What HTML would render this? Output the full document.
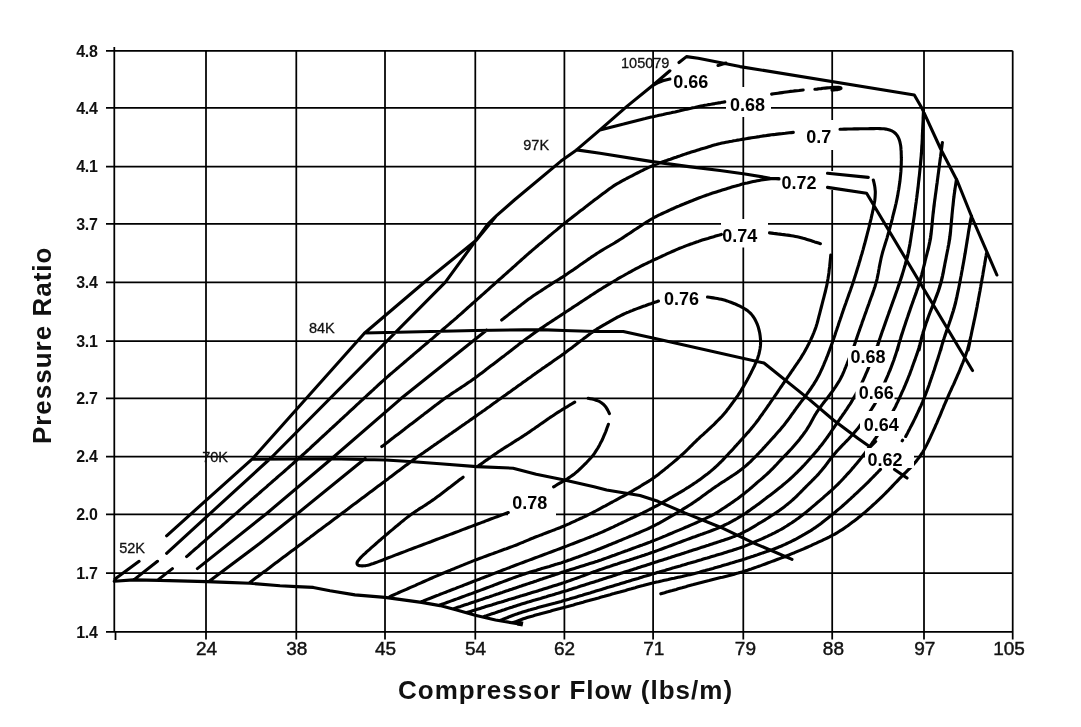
<!DOCTYPE html><html><head><meta charset="utf-8"><title>Compressor Map</title><style>html,body{margin:0;padding:0;background:#fff;}body{width:1081px;height:727px;overflow:hidden;}svg{display:block;}.ax{font-family:"Liberation Sans",Arial,sans-serif;}</style></head><body>
<svg width="1081" height="727" viewBox="0 0 1081 727">
<rect width="1081" height="727" fill="#fff"/>
<path d="M106,50.8 H1012.7 M106,107.9 H1012.7 M106,166.5 H1012.7 M106,223.9 H1012.7 M106,282.4 H1012.7 M106,341.2 H1012.7 M106,398.3 H1012.7 M106,456.5 H1012.7 M106,514.3 H1012.7 M106,573.1 H1012.7 M106,631.9 H1012.7 M206,50.8 V639.4 M296.3,50.8 V639.4 M385,50.8 V639.4 M475.3,50.8 V639.4 M564.4,50.8 V639.4 M653.1,50.8 V639.4 M743.3,50.8 V639.4 M832.2,50.8 V639.4 M924,50.8 V639.4 M1012.7,50.8 V639.4 M114.3,47 V631.9 M115.5,631.9 V640" stroke="#000" stroke-width="1.75" fill="none"/>
<rect x="671" y="70" width="42.0" height="21.0" fill="#fff"/><rect x="726" y="87" width="45.0" height="30.0" fill="#fff"/><rect x="800" y="120" width="38.0" height="30.0" fill="#fff"/><rect x="779" y="171" width="57.0" height="19.0" fill="#fff"/><rect x="721" y="219" width="47.0" height="28.5" fill="#fff"/><rect x="661" y="285" width="44.0" height="24.0" fill="#fff"/><rect x="508" y="489" width="48.0" height="27.0" fill="#fff"/>
<path d="M652.0,86.0 L653.9,84.9 L655.7,83.9 L657.6,82.9 L659.6,82.0 L661.6,81.2 L663.6,80.6 L665.7,80.0 L667.8,79.5 L669.9,79.1 M679.0,62.5 L686.5,56.6 L698.2,58.3 L740.0,66.6 L914.3,95.0 L922.0,108.3 L940.7,149.0 L957.3,181.0 L972.0,217.5 L996.9,275.0 M718.0,65.5 L726.0,63.0 M600.0,129.9 L602.0,129.4 L603.9,128.9 L605.9,128.4 L607.9,127.9 L609.8,127.4 L611.8,126.9 L613.8,126.4 L615.8,125.9 L617.7,125.4 L619.7,124.9 L621.7,124.4 L623.6,124.0 L625.6,123.5 L627.6,123.0 L629.5,122.5 L631.5,122.0 L633.5,121.5 L635.5,121.0 L637.4,120.5 L639.4,120.0 L641.4,119.5 L643.3,119.0 L645.3,118.6 L647.3,118.1 L649.3,117.6 L651.2,117.1 L653.2,116.7 L655.2,116.2 L657.2,115.8 L659.2,115.3 L661.1,114.9 L663.1,114.5 L665.1,114.0 L667.1,113.6 L669.1,113.2 L671.1,112.8 L673.1,112.3 L675.0,111.9 L677.0,111.4 L679.0,111.0 L681.0,110.5 L683.0,110.1 L684.9,109.6 L686.9,109.2 L688.9,108.7 L690.9,108.3 L692.9,107.8 L694.8,107.4 L696.8,106.9 L698.8,106.5 L700.8,106.1 L702.8,105.7 L704.8,105.3 L706.8,105.0 L708.8,104.6 L710.8,104.3 L712.8,103.9 L714.8,103.6 L716.8,103.2 L718.8,102.9 L720.8,102.6 L722.8,102.2 L724.8,101.9 M576.6,149.9 L600.0,153.3 L652.2,161.6 L688.8,166.6 L720.0,170.5 L745.0,174.0 L770.0,178.2 L779.0,179.0 M771.6,94.1 L773.7,93.8 L775.8,93.5 L777.9,93.2 L780.0,92.9 L782.1,92.6 L784.2,92.3 L786.3,92.0 L788.4,91.7 L790.5,91.4 L792.6,91.2 L794.8,90.9 L796.9,90.7 L799.0,90.5 L801.1,90.2 L803.2,90.0 M814.9,89.3 L816.9,89.1 L819.0,88.8 L821.0,88.6 L823.0,88.3 L825.1,88.1 L827.1,87.9 L829.1,87.7 L831.2,87.5 L833.1,87.3 L835.1,87.2 L836.9,87.2 L838.5,87.3 L839.8,87.5 L840.7,87.7 L841.0,88.1 L840.9,88.5 L840.2,88.9 L839.1,89.3 L837.6,89.6 L835.8,89.8 L833.9,90.0 L832.0,90.2 M840.0,129.2 L842.0,129.2 L844.0,129.1 L846.0,129.1 L848.0,129.0 L850.0,129.0 L852.0,129.0 L854.0,128.9 L856.0,128.9 L858.0,128.9 L860.0,128.8 L862.0,128.8 L864.0,128.7 L866.0,128.7 L868.0,128.7 L870.0,128.6 L872.0,128.6 L874.0,128.6 L876.0,128.5 L878.0,128.5 L880.0,128.6 L882.0,128.7 L883.9,128.8 L885.9,129.1 L887.7,129.5 L889.6,130.0 L891.3,130.6 L893.0,131.5 L894.4,132.5 L895.8,133.7 L896.9,135.1 L897.9,136.6 L898.7,138.3 L899.4,140.1 L899.9,141.9 L900.3,143.8 L900.7,145.8 L900.9,147.7 L901.0,149.7 L901.2,151.7 L901.2,153.7 L901.3,155.7 L901.3,157.7 L901.4,159.7 L901.3,161.7 L901.3,163.7 L901.2,165.7 L901.1,167.7 L901.0,169.7 L900.9,171.7 L900.7,173.7 L900.5,175.7 L900.3,177.6 L900.1,179.6 L899.9,181.6 L899.6,183.6 L899.3,185.6 L899.0,187.5 L898.7,189.5 L898.3,191.5 L898.0,193.5 L897.7,195.4 L897.3,197.4 L896.9,199.4 L896.5,201.3 L896.1,203.3 L895.6,205.2 L895.2,207.2 L894.7,209.1 L894.2,211.0 L893.7,213.0 L893.2,214.9 L892.7,216.9 L892.3,218.8 L891.8,220.7 L891.3,222.7 L890.7,224.6 L890.2,226.6 L889.7,228.5 L889.2,230.4 L888.6,232.3 L888.1,234.3 L887.5,236.2 L887.0,238.1 L886.4,240.0 L885.8,241.9 L885.2,243.8 L884.6,245.7 L884.0,247.6 L883.4,249.6 L882.8,251.5 L882.3,253.4 L881.8,255.3 L881.3,257.3 L880.9,259.2 L880.5,261.2 L880.1,263.1 L879.7,265.1 L879.3,267.1 L879.0,269.0 L878.6,271.0 L878.3,273.0 L877.9,274.9 L877.5,276.9 L877.1,278.8 L876.6,280.8 L876.1,282.7 L875.5,284.6 L875.0,286.5 L874.3,288.4 L873.7,290.3 L873.0,292.2 L872.4,294.1 L871.7,296.0 L871.0,297.8 L870.3,299.7 L869.6,301.6 L869.0,303.5 L868.3,305.4 L867.6,307.3 L866.9,309.1 L866.3,311.0 L865.6,312.9 L864.9,314.8 L864.2,316.7 L863.6,318.6 L862.9,320.4 L862.2,322.3 L861.6,324.2 L860.9,326.1 L860.2,328.0 L859.6,329.9 L858.9,331.8 L858.2,333.7 L857.6,335.5 L857.0,337.4 L856.3,339.3 L855.7,341.2 L855.1,343.1 L854.4,345.0 L853.7,346.9 L853.0,348.8 L852.3,350.6 L851.6,352.5 L850.8,354.4 L850.1,356.2 L849.3,358.1 L848.6,359.9 L847.8,361.8 L847.1,363.6 L846.3,365.5 L845.6,367.3 L844.8,369.2 L844.1,371.0 L843.3,372.9 L842.5,374.7 L841.6,376.5 L840.7,378.3 L839.8,380.0 L838.8,381.7 L837.7,383.4 L836.6,385.1 L835.5,386.8 L834.4,388.4 L833.3,390.1 L832.1,391.7 L830.9,393.3 L829.7,394.9 L828.5,396.5 L827.3,398.1 L826.1,399.7 L824.8,401.2 L823.6,402.8 L822.4,404.4 L821.2,406.0 L820.0,407.6 L818.9,409.2 L817.7,410.9 L816.6,412.5 L815.6,414.2 L814.5,415.9 L813.5,417.7 L812.6,419.4 L811.6,421.2 L810.7,422.9 L809.7,424.7 L808.7,426.4 L807.6,428.1 L806.6,429.8 L805.5,431.4 L804.3,433.0 L803.1,434.7 L801.9,436.2 L800.7,437.8 L799.5,439.4 L798.2,441.0 L796.9,442.5 L795.6,444.0 L794.3,445.5 L793.0,447.0 L791.7,448.5 L790.3,450.0 L789.0,451.4 L787.6,452.9 L786.2,454.3 L784.8,455.7 L783.4,457.2 L782.0,458.6 L780.6,460.1 L779.3,461.5 L777.9,463.0 L776.6,464.5 L775.2,465.9 L773.8,467.4 L772.4,468.8 L771.0,470.2 L769.6,471.6 L768.1,473.0 L766.7,474.3 L765.2,475.7 L763.7,477.0 L762.2,478.3 L760.7,479.6 L759.1,480.9 L757.6,482.2 L756.1,483.5 L754.6,484.8 L753.1,486.2 L751.6,487.5 L750.0,488.8 L748.5,490.1 L747.0,491.3 L745.4,492.6 L743.9,493.9 L742.3,495.1 L740.7,496.3 L739.1,497.5 L737.5,498.7 L735.9,499.8 L734.2,501.0 L732.6,502.1 L730.9,503.2 L729.3,504.4 L727.6,505.5 L726.0,506.6 L724.3,507.7 L722.6,508.8 L721.0,509.9 L719.3,511.0 L717.6,512.1 L715.9,513.1 L714.2,514.1 L712.4,515.1 L710.6,516.0 L708.9,516.9 L707.1,517.7 L705.3,518.6 L703.4,519.4 L701.6,520.3 L699.8,521.1 L698.0,521.9 L696.2,522.8 L694.3,523.6 L692.5,524.4 L690.7,525.2 L688.8,526.0 L687.0,526.8 L685.1,527.5 L683.3,528.3 L681.5,529.1 L679.6,529.9 L677.8,530.6 L675.9,531.4 L674.1,532.2 L672.2,533.0 L670.4,533.7 L668.5,534.5 L666.7,535.3 L664.9,536.1 L663.0,536.8 L661.2,537.6 L659.3,538.4 L657.5,539.1 L655.6,539.9 L653.8,540.6 L651.9,541.3 L650.0,542.1 L648.2,542.8 L646.3,543.5 L644.4,544.2 L642.5,544.9 L640.6,545.5 L638.8,546.2 L636.9,546.9 L635.0,547.6 L633.1,548.3 L631.3,549.0 L629.4,549.7 L627.5,550.4 L625.6,551.0 L623.7,551.7 L621.9,552.4 L620.0,553.1 L618.1,553.8 L616.2,554.5 L614.3,555.2 L612.5,555.8 L610.6,556.5 L608.7,557.2 L606.8,557.9 L604.9,558.6 L603.0,559.2 L601.2,559.9 L599.3,560.5 L597.4,561.2 L595.5,561.8 L593.6,562.4 L591.6,563.0 L589.7,563.6 L587.8,564.2 L585.9,564.8 L584.0,565.4 L582.1,566.0 L580.2,566.6 L578.3,567.2 L576.4,567.8 L574.5,568.4 L572.6,569.0 L570.6,569.6 L568.7,570.2 L566.8,570.8 L564.9,571.4 L563.0,572.0 L561.1,572.6 L559.2,573.3 L557.3,573.9 L555.4,574.5 L553.5,575.2 L551.6,575.8 L549.7,576.4 L547.8,577.1 L545.9,577.7 L544.0,578.3 L542.1,579.0 L540.2,579.6 L538.4,580.2 L536.5,580.9 L534.6,581.5 L532.7,582.2 L530.8,582.8 L528.9,583.4 L527.0,584.1 L525.1,584.7 L523.2,585.3 L521.3,586.0 L519.4,586.6 L517.5,587.3 L515.6,587.9 L513.7,588.5 L511.8,589.2 L509.9,589.8 L508.0,590.5 L506.1,591.1 L504.2,591.7 L502.3,592.4 L500.4,593.0 L498.5,593.7 L496.6,594.3 L494.7,594.9 L492.8,595.6 L491.0,596.2 L489.1,596.9 L487.2,597.5 L485.3,598.1 L483.4,598.8 L481.5,599.4 L479.6,600.1 L477.7,600.7 L475.8,601.3 L473.9,602.0 L472.0,602.6 L470.1,603.2 L468.2,603.9 L466.3,604.5 L464.4,605.1 L462.5,605.7 L460.6,606.4 L458.7,607.0 L456.8,607.6 L454.9,608.3 L453.0,608.9 M827.5,173.3 L868.3,177.4 M873.3,180.0 L873.8,181.9 L874.2,183.7 L874.6,185.6 L874.9,187.5 L875.1,189.4 L875.3,191.3 L875.3,193.2 L875.2,195.2 L875.1,197.1 L874.9,199.1 L874.7,201.0 L874.3,203.0 L874.0,204.9 L873.6,206.9 L873.3,208.9 L872.8,210.8 L872.4,212.8 L872.0,214.7 L871.5,216.7 L871.1,218.6 L870.6,220.6 L870.1,222.5 L869.6,224.5 L869.2,226.4 L868.7,228.3 L868.2,230.3 L867.7,232.2 L867.2,234.2 L866.7,236.1 L866.2,238.0 L865.7,240.0 L865.2,241.9 L864.7,243.8 L864.1,245.8 L863.6,247.7 L863.1,249.6 L862.5,251.6 L862.0,253.5 L861.4,255.4 L860.8,257.3 L860.3,259.2 L859.7,261.2 L859.1,263.1 L858.6,265.0 L858.0,266.9 L857.4,268.8 L856.8,270.8 L856.2,272.7 L855.6,274.6 L855.0,276.5 L854.4,278.4 L853.8,280.3 L853.2,282.2 L852.5,284.1 L851.9,286.0 L851.2,287.9 L850.6,289.8 L849.9,291.7 L849.2,293.5 L848.6,295.4 L847.9,297.3 L847.2,299.2 L846.5,301.1 L845.9,303.0 L845.2,304.9 L844.5,306.7 L843.9,308.6 L843.2,310.5 L842.6,312.4 L841.9,314.3 L841.3,316.2 L840.6,318.1 L840.0,320.0 L839.3,321.9 L838.7,323.8 L838.1,325.7 L837.4,327.6 L836.8,329.5 L836.1,331.4 L835.5,333.3 L834.9,335.2 L834.2,337.1 L833.6,339.0 L832.9,340.9 L832.3,342.8 L831.6,344.6 L830.9,346.5 L830.2,348.4 L829.5,350.3 L828.8,352.1 L828.1,354.0 L827.4,355.9 L826.6,357.7 L825.9,359.6 L825.1,361.4 L824.3,363.3 L823.6,365.1 L822.8,366.9 L822.0,368.8 L821.1,370.6 L820.3,372.4 L819.4,374.2 L818.5,375.9 L817.5,377.7 L816.6,379.4 L815.6,381.2 L814.5,382.9 L813.5,384.6 L812.4,386.2 L811.3,387.9 L810.2,389.5 L809.0,391.2 L807.8,392.8 L806.7,394.4 L805.5,396.0 L804.3,397.6 L803.1,399.2 L801.9,400.8 L800.7,402.4 L799.5,404.0 L798.3,405.6 L797.1,407.2 L795.9,408.9 L794.7,410.5 L793.6,412.1 L792.4,413.7 L791.2,415.4 L790.1,417.0 L788.9,418.6 L787.7,420.2 L786.5,421.8 L785.3,423.4 L784.1,425.0 L782.8,426.5 L781.5,428.1 L780.3,429.6 L778.9,431.1 L777.6,432.6 L776.3,434.1 L775.0,435.6 L773.6,437.1 L772.3,438.5 L770.9,440.0 L769.6,441.5 L768.2,443.0 L766.9,444.5 L765.5,445.9 L764.2,447.4 L762.8,448.9 L761.5,450.4 L760.1,451.8 L758.7,453.3 L757.3,454.7 L756.0,456.2 L754.5,457.6 L753.1,459.0 L751.7,460.4 L750.3,461.8 L748.8,463.1 L747.3,464.5 L745.8,465.8 L744.3,467.1 L742.8,468.3 L741.2,469.6 L739.6,470.8 L738.0,471.9 L736.4,473.1 L734.7,474.2 L733.1,475.3 L731.4,476.4 L729.7,477.5 L728.0,478.6 L726.3,479.7 L724.7,480.8 L723.0,481.8 L721.3,482.9 L719.6,484.0 L718.0,485.2 L716.3,486.3 L714.7,487.4 L713.0,488.5 L711.4,489.7 L709.8,490.9 L708.1,492.0 L706.5,493.2 L704.9,494.4 L703.3,495.6 L701.7,496.8 L700.1,498.0 L698.5,499.1 L696.8,500.3 L695.2,501.4 L693.5,502.5 L691.9,503.6 L690.2,504.7 L688.5,505.8 L686.8,506.9 L685.1,507.9 L683.4,508.9 L681.7,510.0 L679.9,511.0 L678.2,512.0 L676.5,513.0 L674.8,514.1 L673.1,515.1 L671.3,516.1 L669.6,517.1 L667.9,518.1 L666.1,519.1 L664.4,520.1 L662.7,521.1 L660.9,522.1 L659.2,523.1 L657.4,524.0 L655.7,524.9 L653.9,525.9 L652.1,526.7 L650.3,527.6 L648.5,528.5 L646.7,529.3 L644.8,530.1 L643.0,530.9 L641.2,531.7 L639.3,532.5 L637.5,533.3 L635.6,534.0 L633.8,534.8 L631.9,535.6 L630.1,536.3 L628.2,537.1 L626.4,537.9 L624.5,538.6 L622.7,539.4 L620.8,540.2 L619.0,540.9 L617.1,541.7 L615.3,542.5 L613.4,543.2 L611.6,544.0 L609.7,544.7 L607.9,545.5 L606.0,546.3 L604.2,547.0 L602.3,547.7 L600.4,548.5 L598.6,549.2 L596.7,549.9 L594.8,550.7 L593.0,551.4 L591.1,552.1 L589.2,552.8 L587.4,553.5 L585.5,554.2 L583.6,554.9 L581.7,555.6 L579.8,556.3 L578.0,557.0 L576.1,557.6 L574.2,558.3 L572.3,559.0 L570.4,559.7 L568.5,560.3 L566.7,561.0 L564.8,561.6 L562.9,562.2 L561.0,562.9 L559.0,563.5 L557.1,564.1 L555.2,564.6 L553.3,565.2 L551.4,565.8 L549.5,566.4 L547.5,566.9 L545.6,567.5 L543.7,568.1 L541.8,568.6 L539.9,569.2 L538.0,569.8 L536.0,570.4 L534.1,570.9 L532.2,571.5 L530.3,572.1 L528.4,572.7 L526.5,573.3 L524.6,574.0 L522.7,574.6 L520.8,575.2 L518.9,575.9 L517.0,576.6 L515.1,577.2 L513.2,577.9 L511.4,578.6 L509.5,579.3 L507.6,580.0 L505.7,580.7 L503.9,581.4 L502.0,582.1 L500.1,582.8 L498.2,583.5 L496.4,584.2 L494.5,584.9 L492.6,585.7 L490.7,586.4 L488.9,587.1 L487.0,587.8 L485.1,588.5 L483.2,589.2 L481.4,589.9 L479.5,590.6 L477.6,591.3 L475.7,592.0 L473.9,592.7 L472.0,593.4 L470.1,594.1 L468.2,594.7 L466.3,595.4 L464.5,596.1 L462.6,596.8 L460.7,597.5 L458.8,598.2 L456.9,598.9 L455.1,599.5 L453.2,600.2 L451.3,600.9 L449.4,601.6 L447.5,602.3 L445.6,603.0 L443.8,603.6 L441.9,604.3 L440.0,605.0 M827.5,187.4 L866.6,193.3 L972.5,370.5 M923.5,110.0 L923.4,112.0 L923.3,114.0 L923.2,116.0 L923.1,118.0 L923.1,120.0 L923.0,122.0 L922.9,124.0 L922.8,126.0 L922.7,128.0 L922.6,130.0 L922.5,132.0 L922.4,134.0 L922.4,136.0 L922.3,138.0 L922.2,140.0 L922.1,142.1 L922.0,144.1 L921.9,146.1 L921.8,148.1 L921.7,150.1 L921.5,152.1 L921.4,154.1 L921.2,156.1 L921.1,158.1 L920.9,160.0 L920.7,162.0 L920.5,164.0 L920.3,166.0 L920.1,168.0 L919.9,170.0 L919.7,172.0 L919.5,174.0 L919.3,176.0 L919.1,178.0 L918.9,180.0 L918.6,182.0 L918.4,184.0 L918.2,186.0 L918.0,188.0 L917.7,190.0 L917.5,191.9 L917.2,193.9 L917.0,195.9 L916.7,197.9 L916.4,199.9 L916.2,201.9 L915.9,203.9 L915.6,205.9 L915.4,207.8 L915.1,209.8 L914.8,211.8 L914.6,213.8 L914.3,215.8 L914.0,217.8 L913.7,219.8 L913.4,221.7 L913.1,223.7 L912.8,225.7 L912.5,227.7 L912.2,229.7 L911.9,231.7 L911.6,233.6 L911.3,235.6 L911.0,237.6 L910.7,239.6 L910.4,241.6 L910.1,243.5 L909.8,245.5 L909.4,247.5 L909.0,249.5 L908.7,251.4 L908.2,253.4 L907.8,255.3 L907.3,257.3 L906.8,259.2 L906.3,261.2 L905.7,263.1 L905.2,265.0 L904.6,266.9 L904.0,268.8 L903.4,270.8 L902.8,272.7 L902.3,274.6 L901.7,276.5 L901.1,278.4 L900.4,280.3 L899.8,282.2 L899.2,284.1 L898.5,286.0 L897.9,287.9 L897.2,289.8 L896.5,291.7 L895.8,293.6 L895.2,295.5 L894.5,297.4 L893.8,299.2 L893.1,301.1 L892.4,303.0 L891.8,304.9 L891.1,306.8 L890.4,308.7 L889.7,310.6 L889.0,312.4 L888.4,314.3 L887.7,316.2 L887.0,318.1 L886.4,320.0 L885.7,321.9 L885.0,323.8 L884.3,325.7 L883.7,327.6 L883.0,329.5 L882.3,331.3 L881.7,333.2 L881.0,335.1 L880.4,337.0 L879.8,338.9 L879.2,340.9 L878.6,342.8 L878.0,344.7 L877.4,346.6 M942.4,142.5 L942.1,144.5 L941.9,146.5 L941.6,148.5 L941.4,150.5 L941.1,152.5 L940.8,154.5 L940.6,156.5 L940.3,158.5 L940.0,160.5 L939.8,162.4 L939.5,164.4 L939.3,166.4 L939.0,168.4 L938.7,170.4 L938.5,172.4 L938.2,174.4 L937.9,176.4 L937.7,178.4 L937.4,180.4 L937.2,182.4 L936.9,184.4 L936.6,186.4 L936.4,188.4 L936.1,190.4 L935.8,192.4 L935.5,194.4 L935.3,196.4 L935.0,198.3 L934.7,200.3 L934.5,202.3 L934.2,204.3 L933.9,206.3 L933.7,208.3 L933.5,210.3 L933.2,212.3 L933.0,214.3 L932.8,216.3 L932.6,218.3 L932.4,220.3 L932.3,222.3 L932.1,224.3 L931.9,226.3 L931.7,228.3 L931.5,230.3 L931.3,232.3 L931.1,234.3 L930.8,236.3 L930.6,238.3 L930.2,240.3 L929.8,242.2 L929.4,244.2 L928.9,246.2 L928.5,248.1 L928.0,250.1 L927.4,252.0 L926.9,254.0 L926.4,255.9 L925.9,257.8 L925.4,259.8 L925.0,261.8 L924.5,263.7 L924.0,265.7 L923.5,267.6 L923.0,269.6 L922.6,271.5 L922.1,273.5 L921.6,275.4 L921.1,277.4 L920.5,279.3 L920.0,281.2 L919.4,283.2 L918.8,285.1 L918.2,287.0 L917.5,288.9 L916.8,290.8 L916.2,292.7 L915.5,294.6 L914.8,296.5 L914.1,298.4 L913.4,300.2 L912.8,302.1 L912.1,304.0 L911.4,305.9 L910.7,307.8 L910.1,309.7 L909.4,311.6 L908.7,313.5 L908.1,315.4 L907.5,317.3 L906.8,319.2 L906.2,321.1 L905.5,323.1 L904.9,325.0 L904.3,326.9 L903.6,328.8 L903.0,330.7 L902.4,332.6 L901.7,334.5 L901.1,336.4 L900.6,338.4 L900.0,340.3 L899.4,342.2 L898.9,344.2 L898.4,346.1 L897.9,348.1 L897.4,350.0 M956.5,179.1 L956.2,181.1 L955.9,183.1 L955.6,185.1 L955.3,187.1 L954.9,189.1 L954.7,191.1 L954.4,193.1 L954.1,195.1 L953.9,197.1 L953.6,199.1 L953.4,201.1 L953.2,203.1 L953.0,205.1 L952.8,207.2 L952.6,209.2 L952.4,211.2 L952.2,213.2 L952.0,215.2 L951.8,217.2 L951.6,219.2 L951.4,221.2 L951.3,223.3 L951.1,225.3 L950.9,227.3 L950.7,229.3 L950.6,231.3 L950.4,233.3 L950.2,235.3 L949.9,237.3 L949.7,239.3 L949.3,241.3 L949.0,243.3 L948.6,245.3 L948.2,247.3 L947.8,249.3 L947.4,251.2 L947.0,253.2 L946.6,255.2 L946.2,257.2 L945.8,259.2 L945.4,261.1 L945.0,263.1 L944.7,265.1 L944.3,267.1 L943.9,269.1 L943.6,271.1 L943.2,273.1 L942.8,275.0 L942.4,277.0 L941.9,279.0 L941.5,281.0 L941.0,282.9 L940.4,284.8 L939.8,286.8 L939.2,288.7 L938.6,290.6 L937.9,292.5 L937.2,294.4 L936.5,296.3 L935.7,298.2 L935.0,300.1 L934.3,301.9 L933.5,303.8 L932.7,305.7 L932.0,307.6 L931.2,309.4 L930.4,311.3 L929.7,313.2 L929.0,315.1 L928.3,317.0 L927.6,318.9 L926.9,320.8 L926.2,322.7 L925.6,324.6 L925.0,326.5 L924.3,328.4 L923.7,330.4 L923.1,332.3 L922.6,334.2 L922.0,336.2 L921.5,338.1 L921.1,340.1 L920.7,342.1 L920.3,344.0 L919.9,346.0 L919.5,348.0 L919.1,350.0 M971.5,215.7 L971.1,217.7 L970.7,219.6 L970.3,221.6 L970.0,223.6 L969.6,225.5 L969.3,227.5 L968.9,229.5 L968.6,231.4 L968.3,233.4 L968.0,235.4 L967.7,237.4 L967.4,239.4 L967.1,241.3 L966.8,243.3 L966.4,245.3 L966.1,247.3 L965.8,249.2 L965.5,251.2 L965.2,253.2 L964.8,255.2 L964.5,257.1 L964.1,259.1 L963.8,261.1 L963.4,263.1 L963.1,265.0 L962.7,267.0 L962.4,269.0 L962.0,270.9 L961.6,272.9 L961.3,274.9 L960.9,276.8 L960.5,278.8 L960.2,280.8 L959.8,282.7 L959.4,284.7 L959.0,286.7 L958.6,288.6 L958.2,290.6 L957.8,292.5 L957.4,294.5 L957.0,296.5 L956.6,298.4 L956.1,300.4 L955.7,302.3 L955.2,304.3 L954.7,306.2 L954.2,308.1 L953.6,310.0 L953.0,312.0 L952.4,313.9 L951.8,315.8 L951.2,317.7 L950.5,319.6 L949.9,321.5 L949.2,323.4 L948.6,325.2 L947.9,327.1 L947.2,329.0 L946.6,330.9 L945.9,332.8 L945.2,334.7 L944.6,336.6 L944.0,338.5 L943.3,340.4 L942.8,342.3 L942.2,344.2 L941.7,346.1 L941.2,348.1 L940.7,350.0 M986.5,253.3 L986.2,255.3 L985.8,257.3 L985.5,259.2 L985.1,261.2 L984.8,263.2 L984.5,265.2 L984.1,267.2 L983.8,269.1 L983.4,271.1 L983.1,273.1 L982.8,275.1 L982.4,277.1 L982.1,279.0 L981.7,281.0 L981.4,283.0 L981.0,285.0 L980.7,286.9 L980.3,288.9 L980.0,290.9 L979.6,292.9 L979.2,294.9 L978.9,296.8 L978.5,298.8 L978.2,300.8 L977.8,302.8 L977.4,304.7 L977.1,306.7 L976.7,308.7 L976.3,310.6 L975.9,312.6 L975.5,314.6 L975.1,316.6 L974.7,318.5 L974.2,320.5 L973.8,322.4 L973.4,324.4 L973.0,326.4 L972.6,328.3 L972.1,330.3 L971.7,332.3 L971.3,334.2 L970.9,336.2 L970.5,338.2 L970.1,340.1 L969.8,342.1 L969.4,344.1 L969.0,346.1 L968.6,348.0 L968.2,350.0 M830.8,255.0 L830.6,257.0 L830.4,259.0 L830.2,261.0 L830.0,263.0 L829.8,264.9 L829.6,266.9 L829.3,268.9 L829.1,270.9 L828.9,272.9 L828.6,274.9 L828.3,276.8 L828.0,278.8 L827.6,280.8 L827.3,282.7 L826.9,284.7 L826.5,286.7 L826.0,288.6 L825.6,290.5 L825.1,292.5 L824.6,294.4 L824.1,296.4 L823.6,298.3 L823.1,300.2 L822.6,302.2 L822.1,304.1 L821.6,306.0 L821.1,308.0 L820.6,309.9 L820.1,311.9 L819.6,313.8 L819.1,315.7 L818.6,317.7 L818.1,319.6 L817.6,321.5 L817.1,323.4 L816.5,325.3 L815.9,327.2 L815.2,329.1 L814.5,331.0 L813.8,332.8 L813.0,334.7 L812.3,336.5 L811.4,338.3 L810.6,340.1 L809.7,341.9 L808.8,343.7 L807.9,345.4 L807.0,347.2 L806.0,349.0 L805.1,350.7 L804.1,352.5 L803.1,354.2 L802.0,355.9 L801.0,357.6 L799.9,359.3 L798.8,360.9 L797.7,362.6 L796.6,364.2 L795.4,365.9 L794.3,367.5 L793.2,369.2 L792.0,370.8 L790.9,372.5 L789.8,374.1 L788.6,375.8 L787.5,377.4 L786.4,379.1 L785.2,380.7 L784.1,382.4 L783.0,384.0 L781.9,385.7 L780.7,387.3 L779.6,389.0 L778.5,390.7 L777.4,392.3 L776.3,394.0 L775.1,395.6 L774.0,397.3 L772.9,398.9 L771.7,400.6 L770.6,402.2 L769.5,403.9 L768.3,405.5 L767.2,407.1 L766.0,408.8 L764.9,410.4 L763.7,412.0 L762.6,413.7 L761.4,415.3 L760.2,416.9 L759.1,418.6 L757.9,420.2 L756.7,421.8 L755.5,423.4 L754.3,424.9 L753.0,426.5 L751.7,428.0 L750.5,429.6 L749.2,431.1 L747.8,432.6 L746.5,434.1 L745.2,435.6 L743.8,437.0 L742.5,438.5 L741.1,440.0 L739.8,441.5 L738.5,443.0 L737.1,444.4 L735.8,445.9 L734.4,447.4 L733.1,448.9 L731.8,450.4 L730.4,451.8 L729.0,453.3 L727.7,454.8 L726.3,456.2 L724.9,457.7 L723.6,459.1 L722.2,460.6 L720.8,462.0 L719.3,463.4 L717.9,464.8 L716.5,466.2 L715.0,467.5 L713.5,468.8 L712.0,470.1 L710.5,471.4 L708.9,472.7 L707.4,473.9 L705.8,475.1 L704.2,476.3 L702.6,477.5 L701.0,478.7 L699.4,479.9 L697.7,481.0 L696.1,482.2 L694.4,483.3 L692.8,484.4 L691.1,485.5 L689.4,486.6 L687.7,487.7 L686.0,488.7 L684.3,489.8 L682.6,490.8 L680.9,491.8 L679.2,492.8 L677.5,493.9 L675.7,494.9 L674.0,495.9 L672.3,496.9 L670.5,497.9 L668.8,498.9 L667.1,499.9 L665.3,500.9 L663.6,501.9 L661.9,502.9 L660.1,503.8 L658.4,504.8 L656.6,505.8 L654.9,506.7 L653.1,507.7 L651.3,508.6 L649.5,509.5 L647.8,510.4 L646.0,511.3 L644.2,512.2 L642.4,513.1 L640.6,513.9 L638.8,514.8 L637.0,515.6 L635.2,516.5 L633.4,517.4 L631.5,518.2 L629.7,519.1 L627.9,519.9 L626.1,520.8 L624.3,521.7 L622.5,522.5 L620.7,523.4 L618.9,524.2 L617.1,525.1 L615.3,525.9 L613.5,526.8 L611.7,527.6 L609.8,528.5 L608.0,529.3 L606.2,530.2 L604.4,531.0 L602.6,531.8 L600.7,532.6 L598.9,533.4 L597.1,534.2 L595.2,534.9 L593.4,535.7 L591.5,536.4 L589.6,537.2 L587.8,537.9 L585.9,538.6 L584.1,539.4 L582.2,540.1 L580.3,540.8 L578.5,541.5 L576.6,542.3 L574.7,543.0 L572.9,543.7 L571.0,544.4 L569.1,545.1 L567.3,545.9 L565.4,546.6 L563.5,547.3 L561.6,548.0 L559.8,548.7 L557.9,549.4 L556.0,550.1 L554.2,550.8 L552.3,551.5 L550.4,552.2 L548.5,552.9 L546.7,553.6 L544.8,554.3 L542.9,555.0 L541.0,555.7 L539.2,556.4 L537.3,557.1 L535.4,557.8 L533.5,558.5 L531.7,559.2 L529.8,559.9 L527.9,560.6 L526.0,561.3 L524.2,562.0 L522.3,562.7 L520.4,563.4 L518.5,564.1 L516.7,564.8 L514.8,565.5 L512.9,566.2 L511.1,566.9 L509.2,567.7 L507.3,568.4 L505.5,569.1 L503.6,569.8 L501.7,570.5 L499.9,571.3 L498.0,572.0 L496.1,572.7 L494.3,573.4 L492.4,574.1 L490.5,574.8 L488.7,575.6 L486.8,576.3 L484.9,577.0 L483.1,577.7 L481.2,578.4 L479.3,579.2 L477.5,579.9 L475.6,580.6 L473.7,581.3 L471.9,582.0 L470.0,582.8 L468.1,583.5 L466.3,584.2 L464.4,584.9 L462.5,585.7 L460.7,586.4 L458.8,587.1 L456.9,587.8 L455.1,588.6 L453.2,589.3 L451.3,590.0 L449.5,590.7 L447.6,591.4 L445.7,592.2 L443.9,592.9 L442.0,593.6 L440.1,594.3 L438.3,595.1 L436.4,595.8 L434.6,596.5 L432.7,597.2 L430.8,598.0 L429.0,598.7 L427.1,599.4 L425.2,600.1 L423.4,600.9 L421.5,601.6 M166.6,535.8 L252.9,458.3 L364.4,333.2 L423.2,283.3 L476.5,240.0 L496.0,216.2 L514.4,200.0 L561.0,161.1 L576.6,149.9 L600.0,129.9 L626.6,106.6 L653.2,85.0 L669.9,70.8 M166.6,553.3 L271.4,457.5 L445.4,282.1 L487.6,224.4 L495.0,217.0 M186.6,556.6 L188.1,555.3 L189.6,554.0 L191.1,552.6 L192.6,551.3 L194.1,550.0 L195.6,548.7 L197.2,547.4 L198.7,546.1 L200.2,544.7 L201.7,543.4 L203.2,542.1 L204.7,540.8 L206.2,539.5 L207.7,538.2 L209.2,536.8 L210.7,535.5 L212.2,534.2 L213.7,532.9 L215.2,531.6 L216.8,530.2 L218.3,528.9 L219.8,527.6 L221.3,526.3 L222.8,525.0 L224.3,523.7 L225.8,522.3 L227.3,521.0 L228.8,519.7 L230.3,518.4 L231.8,517.1 L233.3,515.8 L234.8,514.4 L236.4,513.1 L237.9,511.8 L239.4,510.5 L240.9,509.2 L242.4,507.8 L243.9,506.5 L245.4,505.2 L246.9,503.9 L248.4,502.6 L249.9,501.3 L251.4,499.9 L252.9,498.6 L254.4,497.3 L256.0,496.0 L257.5,494.7 L259.0,493.4 L260.5,492.0 L262.0,490.7 L263.5,489.4 L265.0,488.1 L266.5,486.8 L268.0,485.4 L269.5,484.1 L271.0,482.8 L272.5,481.5 L274.0,480.2 L275.6,478.9 L277.1,477.5 L278.6,476.2 L280.1,474.9 L281.6,473.6 L283.1,472.3 L284.6,471.0 L286.1,469.6 L287.6,468.3 L289.1,467.0 L290.6,465.7 L292.1,464.4 L293.6,463.0 L295.1,461.7 L296.6,460.4 L298.1,459.1 L299.6,457.7 L301.1,456.4 L302.6,455.0 L304.1,453.7 L305.6,452.3 L307.0,451.0 L308.5,449.6 L310.0,448.3 L311.4,446.9 L312.9,445.5 L314.4,444.2 L315.8,442.8 L317.3,441.5 L318.8,440.1 L320.3,438.7 L321.7,437.4 L323.2,436.0 L324.7,434.7 L326.1,433.3 L327.6,431.9 L329.1,430.6 L330.5,429.2 L332.0,427.9 L333.5,426.5 L335.0,425.1 L336.4,423.8 L337.9,422.4 L339.4,421.1 L340.8,419.7 L342.3,418.3 L343.8,417.0 L345.2,415.6 L346.7,414.3 L348.2,412.9 L349.6,411.5 L351.1,410.2 L352.6,408.8 L354.1,407.5 L355.5,406.1 L357.0,404.7 L358.5,403.4 L359.9,402.0 L361.4,400.7 L362.9,399.3 L364.3,397.9 L365.8,396.6 L367.3,395.2 L368.7,393.8 L370.2,392.5 L371.7,391.1 L373.2,389.8 L374.6,388.4 L376.1,387.1 L377.6,385.7 L379.0,384.3 L380.5,383.0 L382.0,381.6 L383.5,380.3 L385.0,379.0 L386.5,377.7 L388.0,376.4 L389.5,375.0 L391.0,373.7 L392.6,372.4 L394.1,371.1 L395.6,369.8 L397.1,368.5 L398.7,367.2 L400.2,365.9 L401.7,364.6 L403.2,363.3 L404.7,362.0 L406.3,360.7 L407.8,359.4 L409.3,358.1 L410.8,356.8 L412.4,355.5 L413.9,354.2 L415.4,352.9 L416.9,351.6 L418.5,350.3 L420.0,349.0 L421.5,347.7 L423.0,346.4 L424.5,345.1 L426.1,343.8 L427.6,342.5 L429.1,341.2 L430.6,339.9 L432.2,338.6 L433.7,337.3 L435.2,336.0 L436.7,334.7 L438.3,333.4 L439.8,332.1 L441.3,330.8 L442.8,329.5 L444.3,328.2 L445.9,326.9 L447.4,325.6 L448.9,324.3 L450.4,323.0 L451.9,321.7 L453.5,320.4 L455.0,319.1 L456.5,317.8 L458.0,316.4 L459.5,315.1 L461.0,313.8 L462.5,312.5 L464.0,311.1 L465.4,309.8 L466.9,308.5 L468.4,307.1 L469.9,305.8 L471.4,304.5 L472.9,303.1 L474.4,301.8 L475.9,300.5 L477.4,299.1 L478.9,297.8 L480.4,296.5 L481.9,295.1 L483.4,293.8 L484.9,292.5 L486.4,291.1 L487.9,289.8 L489.4,288.5 L490.8,287.1 L492.3,285.8 L493.8,284.5 L495.3,283.1 L496.8,281.8 L498.3,280.5 L499.8,279.1 L501.3,277.8 L502.8,276.5 L504.3,275.1 L505.8,273.8 L507.3,272.5 L508.8,271.1 L510.3,269.8 L511.8,268.5 L513.3,267.1 L514.8,265.8 L516.3,264.5 L517.7,263.1 L519.2,261.8 L520.7,260.5 L522.2,259.1 L523.7,257.8 L525.2,256.5 L526.7,255.2 L528.2,253.8 L529.7,252.5 L531.3,251.2 L532.8,249.9 L534.3,248.6 L535.8,247.3 L537.4,246.0 L538.9,244.7 L540.4,243.4 L542.0,242.2 L543.5,240.9 L545.0,239.6 L546.6,238.3 L548.1,237.0 L549.6,235.7 L551.2,234.4 L552.7,233.1 L554.2,231.9 L555.8,230.6 L557.3,229.3 L558.8,228.0 L560.4,226.7 L561.9,225.4 L563.5,224.2 L565.0,222.9 L566.6,221.7 L568.2,220.4 L569.7,219.2 L571.3,218.0 L572.9,216.7 L574.5,215.5 L576.1,214.3 L577.6,213.1 L579.2,211.8 L580.8,210.6 L582.4,209.4 L584.0,208.2 L585.6,206.9 L587.1,205.7 L588.7,204.5 L590.3,203.3 L591.9,202.1 L593.5,200.8 L595.1,199.6 L596.7,198.4 L598.3,197.2 L599.9,196.0 L601.5,194.8 L603.1,193.6 L604.7,192.4 L606.3,191.2 L607.9,190.0 L609.5,188.8 L611.1,187.7 L612.8,186.5 L614.4,185.4 L616.1,184.4 L617.9,183.3 L619.6,182.4 L621.3,181.4 L623.1,180.4 L624.9,179.5 L626.6,178.5 L628.4,177.6 L630.2,176.7 L631.9,175.8 L633.7,174.8 L635.5,173.9 L637.3,173.0 L639.1,172.1 L640.9,171.2 L642.7,170.3 L644.4,169.4 L646.2,168.6 L648.1,167.7 L649.9,166.9 L651.7,166.1 L653.5,165.3 L655.4,164.5 L657.3,163.8 L659.1,163.1 L661.0,162.5 L662.9,161.8 L664.8,161.1 L666.7,160.5 L668.6,159.8 L670.5,159.2 L672.4,158.5 L674.3,157.8 L676.2,157.2 L678.0,156.5 L679.9,155.9 L681.8,155.2 L683.7,154.6 L685.6,153.9 L687.5,153.3 L689.4,152.7 L691.3,152.1 L693.2,151.5 L695.2,150.9 L697.1,150.3 L699.0,149.7 L700.9,149.1 L702.8,148.5 L704.7,148.0 L706.6,147.4 L708.6,146.8 L710.5,146.2 L712.4,145.6 L714.3,145.1 L716.2,144.6 L718.2,144.0 L720.1,143.6 L722.1,143.1 L724.0,142.7 L726.0,142.3 L727.9,141.9 L729.9,141.5 L731.9,141.2 L733.8,140.8 L735.8,140.5 L737.8,140.1 L739.8,139.8 L741.7,139.4 L743.7,139.1 L745.7,138.8 L747.7,138.4 L749.6,138.1 L751.6,137.8 L753.6,137.5 L755.6,137.2 L757.5,136.9 L759.5,136.6 L761.5,136.2 L763.5,135.9 L765.5,135.7 L767.4,135.4 L769.4,135.1 L771.4,134.8 L773.4,134.6 L775.4,134.4 L777.4,134.1 L779.4,133.9 L781.4,133.7 L783.3,133.5 L785.3,133.3 L787.3,133.0 L789.3,132.8 L791.3,132.6 L793.3,132.4 M197.4,568.6 L267.0,513.2 L333.0,457.5 L401.3,398.3 L486.5,330.2 M501.7,320.0 L503.3,318.8 L504.9,317.5 L506.5,316.3 L508.0,315.1 L509.6,313.8 L511.2,312.6 L512.8,311.3 L514.4,310.1 L516.0,308.9 L517.6,307.6 L519.1,306.4 L520.7,305.2 L522.3,303.9 L523.9,302.7 L525.5,301.5 L527.1,300.3 L528.7,299.1 L530.4,297.9 L532.0,296.8 L533.7,295.6 L535.3,294.5 L537.0,293.4 L538.7,292.3 L540.4,291.2 L542.0,290.1 L543.7,289.0 L545.4,287.9 L547.1,286.8 L548.8,285.7 L550.5,284.6 L552.2,283.5 L553.9,282.4 L555.6,281.3 L557.3,280.3 L559.0,279.2 L560.7,278.1 L562.4,277.1 L564.1,276.0 L565.7,274.9 L567.4,273.8 L569.1,272.6 L570.7,271.5 L572.4,270.4 L574.1,269.2 L575.7,268.1 L577.4,266.9 L579.0,265.8 L580.7,264.6 L582.3,263.5 L584.0,262.3 L585.6,261.2 L587.3,260.0 L588.9,258.9 L590.6,257.8 L592.2,256.6 L593.9,255.5 L595.6,254.4 L597.2,253.3 L598.9,252.2 L600.6,251.1 L602.3,250.1 L604.1,249.0 L605.8,248.0 L607.5,247.0 L609.3,246.0 L611.0,245.0 L612.8,244.0 L614.5,243.0 L616.2,241.9 L617.9,240.9 L619.6,239.8 L621.3,238.7 L623.0,237.6 L624.6,236.5 L626.3,235.4 L628.0,234.3 L629.7,233.2 L631.4,232.1 L633.0,230.9 L634.7,229.8 L636.4,228.7 L638.1,227.6 L639.8,226.5 L641.4,225.4 L643.1,224.3 L644.8,223.2 L646.5,222.1 L648.2,221.1 L649.9,220.0 L651.6,219.0 L653.4,218.0 L655.1,217.0 L656.9,216.1 L658.7,215.2 L660.5,214.4 L662.3,213.5 L664.2,212.6 L666.0,211.8 L667.8,211.0 L669.6,210.1 L671.5,209.3 L673.3,208.5 L675.1,207.6 L677.0,206.8 L678.8,206.1 L680.7,205.3 L682.6,204.5 L684.4,203.8 L686.3,203.0 L688.1,202.3 L690.0,201.5 L691.9,200.8 L693.7,200.0 L695.6,199.3 L697.5,198.5 L699.4,197.8 L701.2,197.1 L703.1,196.4 L705.0,195.7 L706.9,195.0 L708.8,194.4 L710.7,193.7 L712.6,193.1 L714.5,192.5 L716.4,191.9 L718.4,191.3 L720.3,190.7 L722.2,190.1 L724.1,189.5 L726.0,188.9 L728.0,188.3 L729.9,187.7 L731.8,187.1 L733.7,186.5 L735.7,186.0 L737.6,185.4 L739.5,184.9 L741.5,184.3 L743.4,183.8 L745.4,183.3 L747.3,182.9 L749.3,182.4 L751.2,182.0 L753.2,181.6 L755.2,181.2 L757.1,180.8 L759.1,180.4 L761.1,180.0 L763.1,179.7 L765.0,179.4 L767.0,179.1 L769.0,178.9 L771.0,178.7 L773.0,178.6 L775.0,178.6 L777.0,178.6 L779.0,178.6 M209.9,580.8 L259.9,543.3 L297.9,513.2 L365.2,458.5 M381.8,446.6 L383.4,445.4 L385.0,444.2 L386.6,442.9 L388.2,441.7 L389.7,440.5 L391.3,439.3 L392.9,438.1 L394.5,436.8 L396.1,435.6 L397.7,434.4 L399.3,433.2 L400.9,432.0 L402.5,430.7 L404.1,429.5 L405.6,428.3 L407.2,427.1 L408.8,425.8 L410.4,424.6 L412.0,423.4 L413.6,422.2 L415.2,421.0 L416.8,419.7 L418.4,418.5 L420.0,417.3 L421.5,416.1 L423.1,414.9 L424.7,413.6 L426.3,412.4 L427.9,411.2 L429.5,410.0 L431.1,408.8 L432.7,407.5 L434.3,406.3 L435.9,405.1 L437.4,403.9 L439.0,402.7 L440.6,401.5 L442.3,400.3 L443.9,399.1 L445.5,397.9 L447.1,396.8 L448.8,395.7 L450.5,394.5 L452.1,393.4 L453.8,392.3 L455.5,391.2 L457.1,390.1 L458.8,389.0 L460.5,387.9 L462.1,386.8 L463.8,385.7 L465.5,384.6 L467.1,383.4 L468.8,382.3 L470.5,381.2 L472.1,380.0 L473.7,378.9 L475.3,377.7 L477.0,376.5 L478.6,375.3 L480.2,374.1 L481.8,372.9 L483.4,371.7 L485.0,370.5 L486.5,369.2 L488.1,368.0 L489.7,366.8 L491.3,365.6 L492.9,364.4 L494.5,363.2 L496.1,362.0 L497.7,360.7 L499.3,359.5 L500.9,358.3 L502.5,357.1 L504.1,355.9 L505.7,354.6 L507.2,353.4 L508.8,352.2 L510.4,351.0 L512.0,349.7 L513.6,348.5 L515.2,347.3 L516.8,346.1 L518.3,344.8 L519.9,343.6 L521.5,342.4 L523.1,341.2 L524.7,340.0 L526.3,338.8 L528.0,337.6 L529.6,336.4 L531.2,335.2 L532.8,334.1 L534.4,332.9 L536.1,331.7 L537.7,330.6 L539.4,329.5 L541.0,328.3 L542.7,327.2 L544.4,326.1 L546.0,325.0 L547.7,323.9 L549.4,322.8 L551.0,321.7 L552.7,320.6 L554.4,319.5 L556.1,318.4 L557.8,317.3 L559.4,316.2 L561.1,315.1 L562.8,314.0 L564.5,312.9 L566.1,311.8 L567.8,310.7 L569.5,309.6 L571.2,308.5 L572.8,307.4 L574.5,306.3 L576.2,305.2 L577.9,304.1 L579.5,303.0 L581.2,301.9 L582.9,300.8 L584.5,299.7 L586.2,298.6 L587.9,297.5 L589.6,296.4 L591.2,295.3 L592.9,294.2 L594.6,293.1 L596.3,292.0 L598.0,290.9 L599.7,289.8 L601.4,288.8 L603.1,287.7 L604.8,286.7 L606.5,285.6 L608.2,284.6 L609.9,283.6 L611.6,282.5 L613.4,281.5 L615.1,280.5 L616.8,279.5 L618.5,278.4 L620.3,277.4 L622.0,276.5 L623.8,275.5 L625.5,274.5 L627.3,273.5 L629.0,272.5 L630.8,271.6 L632.5,270.6 L634.3,269.7 L636.1,268.7 L637.8,267.8 L639.6,266.9 L641.4,265.9 L643.2,265.0 L645.0,264.2 L646.8,263.3 L648.6,262.4 L650.4,261.6 L652.2,260.7 L654.0,259.8 L655.8,259.0 L657.7,258.2 L659.5,257.3 L661.3,256.5 L663.1,255.6 L664.9,254.8 L666.8,253.9 L668.6,253.1 L670.4,252.3 L672.2,251.5 L674.1,250.7 L675.9,249.9 L677.7,249.1 L679.6,248.3 L681.5,247.6 L683.3,246.9 L685.2,246.1 L687.1,245.4 L689.0,244.7 L690.8,244.0 L692.7,243.4 L694.6,242.7 L696.5,242.0 L698.4,241.4 L700.3,240.7 L702.2,240.1 L704.1,239.5 L706.0,238.9 L707.9,238.4 L709.9,237.8 L711.8,237.2 L713.7,236.7 L715.6,236.1 L717.6,235.5 L719.5,235.0 L721.4,234.4 M769.5,232.9 L771.5,233.1 L773.5,233.4 L775.5,233.6 L777.5,233.9 L779.5,234.1 L781.5,234.4 L783.5,234.6 L785.5,234.9 L787.5,235.1 L789.4,235.4 L791.4,235.7 L793.4,236.0 L795.4,236.4 L797.3,236.8 L799.3,237.2 L801.2,237.7 L803.2,238.3 L805.1,238.8 L807.0,239.4 L808.9,240.0 L810.8,240.6 L812.7,241.2 L814.7,241.9 L816.6,242.5 L818.5,243.1 L820.4,243.7 M249.9,582.4 L251.5,581.2 L253.1,580.0 L254.7,578.8 L256.3,577.6 L257.9,576.4 L259.5,575.2 L261.1,574.0 L262.7,572.8 L264.3,571.6 L266.0,570.4 L267.6,569.2 L269.2,568.0 L270.8,566.7 L272.4,565.5 L274.0,564.3 L275.6,563.1 L277.2,561.9 L278.8,560.7 L280.4,559.5 L282.0,558.3 L283.6,557.1 L285.2,555.9 L286.8,554.7 L288.4,553.5 L290.0,552.3 L291.6,551.1 L293.2,549.9 L294.9,548.7 L296.5,547.5 L298.1,546.3 L299.7,545.1 L301.3,543.9 L302.9,542.7 L304.5,541.5 L306.1,540.3 L307.7,539.1 L309.3,537.9 L310.9,536.6 L312.5,535.4 L314.1,534.2 L315.7,533.0 L317.3,531.8 L318.9,530.6 L320.5,529.4 L322.1,528.2 L323.7,527.0 L325.4,525.8 L327.0,524.6 L328.6,523.4 L330.2,522.2 L331.8,521.0 L333.4,519.8 L335.0,518.6 L336.6,517.4 L338.2,516.2 L339.8,515.0 L341.4,513.8 L343.0,512.6 L344.6,511.4 L346.2,510.2 L347.8,509.0 L349.4,507.7 L351.0,506.5 L352.6,505.3 L354.3,504.1 L355.9,502.9 L357.5,501.7 L359.1,500.5 L360.7,499.3 L362.3,498.1 L363.9,496.9 L365.5,495.7 L367.1,494.5 L368.7,493.3 L370.3,492.1 L371.9,490.9 L373.5,489.7 L375.1,488.5 L376.7,487.3 L378.3,486.1 L379.9,484.9 L381.5,483.7 L383.1,482.5 L384.8,481.3 L386.4,480.1 L388.0,478.9 L389.6,477.6 L391.2,476.4 L392.8,475.2 L394.4,474.0 L396.0,472.8 L397.6,471.6 L399.2,470.4 L400.8,469.2 L402.4,468.0 L404.0,466.8 L405.6,465.6 L407.2,464.4 L408.8,463.2 L410.4,462.0 L412.1,460.8 L413.7,459.6 L415.3,458.5 L416.9,457.3 L418.6,456.1 L420.2,455.0 L421.9,453.8 L423.5,452.7 L425.1,451.5 L426.8,450.4 L428.4,449.2 L430.1,448.1 L431.7,446.9 L433.4,445.8 L435.0,444.6 L436.7,443.5 L438.3,442.3 L440.0,441.2 L441.6,440.0 L443.3,438.9 L444.9,437.7 L446.5,436.6 L448.2,435.5 L449.8,434.3 L451.5,433.2 L453.1,432.0 L454.8,430.9 L456.4,429.7 L458.1,428.6 L459.7,427.4 L461.4,426.3 L463.0,425.1 L464.7,424.0 L466.3,422.8 L468.0,421.7 L469.6,420.5 L471.2,419.4 L472.9,418.2 L474.5,417.1 L476.2,415.9 L477.8,414.8 L479.5,413.6 L481.1,412.5 L482.7,411.3 L484.4,410.2 L486.0,409.0 L487.6,407.8 L489.3,406.7 L490.9,405.5 L492.5,404.3 L494.2,403.1 L495.8,402.0 L497.4,400.8 L499.1,399.6 L500.7,398.5 L502.3,397.3 L504.0,396.1 L505.6,395.0 L507.2,393.8 L508.8,392.6 L510.5,391.5 L512.1,390.3 L513.7,389.1 L515.4,388.0 L517.0,386.8 L518.6,385.6 L520.3,384.4 L521.9,383.3 L523.5,382.1 L525.2,380.9 L526.8,379.8 L528.4,378.6 L530.1,377.4 L531.7,376.3 L533.3,375.1 L534.9,373.9 L536.6,372.8 L538.2,371.6 L539.9,370.4 L541.5,369.3 L543.1,368.1 L544.8,367.0 L546.4,365.9 L548.1,364.7 L549.7,363.6 L551.4,362.4 L553.0,361.3 L554.7,360.1 L556.3,359.0 L558.0,357.8 L559.6,356.7 L561.3,355.5 L562.9,354.4 L564.5,353.2 L566.1,352.0 L567.7,350.8 L569.3,349.6 L570.9,348.4 L572.5,347.2 L574.1,345.9 L575.7,344.7 L577.3,343.5 L578.9,342.3 L580.5,341.1 L582.1,339.9 L583.7,338.6 L585.3,337.4 L586.9,336.2 L588.5,335.0 L590.1,333.8 L591.7,332.6 L593.4,331.5 L595.0,330.3 L596.7,329.2 L598.4,328.2 L600.1,327.1 L601.8,326.1 L603.5,325.1 L605.3,324.1 L607.0,323.1 L608.8,322.1 L610.5,321.1 L612.3,320.1 L614.0,319.2 L615.8,318.2 L617.5,317.2 L619.3,316.3 L621.1,315.4 L622.9,314.5 L624.7,313.6 L626.5,312.8 L628.4,312.1 L630.2,311.3 L632.1,310.6 L634.0,309.8 L635.8,309.1 L637.7,308.4 L639.6,307.7 L641.5,307.0 L643.4,306.3 L645.3,305.7 L647.1,305.0 L649.0,304.3 L650.9,303.7 L652.8,303.0 L654.7,302.3 L656.6,301.7 L658.5,301.0 M707.5,297.0 L709.5,297.3 L711.5,297.6 L713.4,297.9 L715.4,298.2 L717.4,298.5 L719.3,298.9 L721.3,299.3 L723.2,299.8 L725.1,300.3 L727.0,300.9 L728.9,301.6 L730.8,302.3 L732.6,303.0 L734.5,303.7 L736.3,304.5 L738.1,305.3 L739.9,306.2 L741.7,307.1 L743.4,308.0 L745.1,309.0 L746.7,310.1 L748.3,311.3 L749.8,312.6 L751.1,313.9 L752.3,315.4 L753.5,317.0 L754.5,318.6 L755.4,320.3 L756.3,322.1 L757.1,323.9 L757.8,325.8 L758.4,327.6 L758.9,329.5 L759.4,331.5 L759.8,333.4 L760.1,335.4 L760.3,337.3 L760.5,339.3 L760.6,341.3 L760.6,343.2 L760.5,345.2 L760.3,347.1 L760.0,349.1 L759.6,351.0 L759.2,353.0 L758.7,354.9 L758.1,356.8 L757.5,358.7 L756.8,360.5 L756.0,362.4 L755.2,364.2 L754.4,366.0 L753.5,367.8 L752.6,369.6 L751.7,371.4 L750.8,373.2 L749.9,374.9 L749.0,376.7 L748.0,378.5 L747.1,380.2 L746.1,381.9 L745.1,383.7 L744.1,385.4 L743.1,387.1 L742.0,388.9 L741.0,390.6 L739.9,392.3 L738.9,393.9 L737.8,395.6 L736.6,397.2 L735.5,398.9 L734.3,400.5 L733.1,402.1 L731.9,403.7 L730.8,405.3 L729.6,406.9 L728.4,408.5 L727.1,410.1 L725.9,411.7 L724.6,413.2 L723.3,414.7 L722.0,416.2 L720.6,417.7 L719.2,419.1 L717.8,420.5 L716.4,421.9 L715.0,423.4 L713.6,424.8 L712.1,426.1 L710.7,427.5 L709.2,428.9 L707.8,430.2 L706.3,431.6 L704.8,432.9 L703.3,434.3 L701.8,435.6 L700.3,436.9 L698.9,438.3 L697.4,439.7 L696.0,441.1 L694.5,442.5 L693.1,443.9 L691.7,445.3 L690.3,446.7 L688.9,448.1 L687.5,449.5 L686.1,450.9 L684.6,452.3 L683.2,453.7 L681.7,455.0 L680.2,456.4 L678.7,457.7 L677.2,459.0 L675.7,460.3 L674.1,461.6 L672.6,462.9 L671.1,464.1 L669.5,465.4 L668.0,466.7 L666.4,467.9 L664.9,469.2 L663.3,470.4 L661.7,471.7 L660.2,472.9 L658.6,474.2 L657.0,475.4 L655.4,476.6 L653.8,477.7 L652.1,478.9 L650.5,480.0 L648.8,481.1 L647.1,482.1 L645.4,483.2 L643.7,484.2 L642.0,485.2 L640.3,486.3 L638.6,487.3 L636.8,488.3 L635.1,489.3 L633.4,490.4 L631.7,491.4 L629.9,492.4 L628.2,493.3 L626.5,494.3 L624.7,495.3 L622.9,496.3 L621.2,497.2 L619.4,498.2 L617.7,499.1 L615.9,500.1 L614.2,501.0 L612.4,502.0 L610.6,502.9 L608.9,503.9 L607.1,504.8 L605.4,505.8 L603.6,506.7 L601.8,507.7 L600.1,508.6 L598.3,509.6 L596.6,510.5 L594.8,511.5 L593.0,512.4 L591.2,513.3 L589.5,514.2 L587.7,515.1 L585.9,516.0 L584.1,516.8 L582.3,517.7 L580.4,518.5 L578.6,519.4 L576.8,520.2 L575.0,521.1 L573.2,521.9 L571.4,522.7 L569.6,523.6 L567.7,524.4 L565.9,525.2 L564.1,526.0 L562.2,526.7 L560.4,527.5 L558.5,528.2 L556.6,528.9 L554.8,529.7 L552.9,530.4 L551.0,531.1 L549.2,531.8 L547.3,532.5 L545.4,533.2 L543.6,533.9 L541.7,534.7 L539.8,535.4 L538.0,536.1 L536.1,536.8 L534.2,537.5 L532.4,538.3 L530.5,539.0 L528.7,539.8 L526.8,540.6 L525.0,541.4 L523.2,542.2 L521.3,542.9 L519.5,543.7 L517.6,544.5 L515.8,545.2 L513.9,545.9 L512.0,546.6 L510.1,547.3 L508.3,548.0 L506.4,548.7 L504.5,549.3 L502.6,550.0 L500.7,550.7 L498.9,551.4 L497.0,552.1 L495.1,552.8 L493.2,553.5 L491.4,554.1 L489.5,554.8 L487.6,555.5 L485.7,556.2 L483.8,556.9 L482.0,557.6 L480.1,558.3 L478.2,559.0 L476.3,559.7 L474.5,560.4 L472.6,561.1 L470.8,561.9 L468.9,562.6 L467.0,563.4 L465.2,564.1 L463.3,564.9 L461.5,565.6 L459.6,566.4 L457.8,567.1 L455.9,567.9 L454.1,568.7 L452.2,569.4 L450.4,570.2 L448.5,570.9 L446.7,571.7 L444.8,572.5 L443.0,573.2 L441.1,574.0 L439.3,574.8 L437.5,575.6 L435.6,576.4 L433.8,577.2 L432.0,578.0 L430.1,578.8 L428.3,579.6 L426.5,580.4 L424.6,581.2 L422.8,582.0 L421.0,582.8 L419.2,583.6 L417.3,584.4 L415.5,585.3 L413.7,586.1 L411.8,586.9 L410.0,587.7 L408.2,588.5 L406.4,589.3 L404.5,590.1 L402.7,590.9 L400.9,591.7 L399.0,592.5 L397.2,593.4 L395.4,594.2 L393.6,595.0 L391.7,595.8 L389.9,596.6 M115.0,579.0 L139.1,561.3 M134.1,579.6 L157.5,561.3 M158.3,579.6 L172.4,568.6 M574.7,402.1 L573.0,403.1 L571.2,404.2 L569.5,405.2 L567.8,406.3 L566.0,407.3 L564.3,408.4 L562.6,409.4 L560.9,410.5 L559.1,411.6 L557.4,412.6 L555.7,413.7 L554.0,414.9 L552.4,416.0 L550.7,417.1 L549.0,418.3 L547.3,419.4 L545.7,420.6 L544.0,421.7 L542.4,422.9 L540.7,424.0 L539.0,425.2 L537.4,426.4 L535.7,427.5 L534.1,428.7 L532.4,429.8 L530.7,431.0 L529.1,432.1 L527.4,433.2 L525.7,434.4 L524.0,435.5 L522.3,436.6 L520.6,437.7 L518.9,438.8 L517.2,439.8 L515.5,440.9 L513.8,442.0 L512.1,443.1 L510.4,444.2 L508.7,445.3 L506.9,446.4 L505.2,447.4 L503.5,448.5 L501.8,449.6 L500.1,450.7 L498.4,451.8 L496.8,453.0 L495.1,454.1 L493.4,455.2 L491.8,456.4 L490.1,457.6 L488.4,458.7 L486.8,459.9 L485.1,461.0 L483.5,462.2 L481.8,463.4 L480.2,464.5 L478.5,465.7 M463.1,477.2 L461.5,478.4 L459.9,479.6 L458.3,480.8 L456.7,482.1 L455.1,483.3 L453.5,484.5 L451.9,485.7 L450.4,486.9 L448.8,488.1 L447.2,489.3 L445.6,490.6 L444.0,491.8 L442.4,493.0 L440.8,494.2 L439.2,495.4 L437.6,496.6 L436.0,497.8 L434.4,499.0 L432.7,500.1 L431.1,501.2 L429.4,502.4 L427.7,503.5 L426.1,504.6 L424.4,505.7 L422.7,506.8 L421.0,507.8 L419.3,508.9 L417.7,510.0 L416.0,511.1 L414.3,512.2 L412.7,513.4 L411.1,514.5 L409.4,515.7 L407.8,516.9 L406.3,518.1 L404.7,519.4 L403.1,520.7 L401.6,521.9 L400.1,523.2 L398.5,524.5 L397.0,525.8 L395.4,527.0 L393.9,528.3 L392.4,529.6 L390.8,530.9 L389.3,532.2 L387.8,533.5 L386.2,534.8 L384.7,536.1 L383.2,537.4 L381.7,538.7 L380.2,540.0 L378.6,541.3 L377.1,542.6 L375.6,544.0 L374.1,545.3 L372.6,546.6 L371.1,547.9 L369.6,549.3 L368.1,550.6 L366.6,551.9 L365.2,553.3 L363.7,554.6 L362.3,556.0 L360.9,557.4 L359.7,558.7 L358.6,560.1 L357.7,561.3 L357.1,562.5 L357.0,563.6 L357.3,564.4 L358.0,565.1 L359.1,565.6 L360.5,565.8 L362.2,565.9 L364.0,565.8 L365.8,565.6 L367.7,565.2 L369.6,564.7 L371.5,564.1 L373.4,563.5 L375.3,562.8 L377.2,562.1 L379.0,561.4 L380.9,560.7 L382.8,560.0 L384.6,559.2 L386.5,558.5 L388.4,557.8 L390.2,557.1 L392.1,556.4 L394.0,555.6 L395.8,554.9 L397.7,554.2 L399.6,553.5 L401.5,552.8 L403.3,552.1 L405.2,551.4 L407.1,550.6 L408.9,549.9 L410.8,549.2 L412.7,548.5 L414.6,547.8 L416.4,547.1 L418.3,546.4 L420.2,545.7 L422.1,545.0 L423.9,544.3 L425.8,543.6 L427.7,542.9 L429.6,542.2 L431.4,541.5 L433.3,540.7 L435.2,540.0 L437.1,539.3 L438.9,538.6 L440.8,537.9 L442.7,537.2 L444.6,536.5 L446.4,535.8 L448.3,535.1 L450.2,534.4 L452.1,533.7 L453.9,533.0 L455.8,532.3 L457.7,531.6 L459.6,530.9 L461.4,530.1 L463.3,529.4 L465.2,528.7 L467.1,528.0 L468.9,527.3 L470.8,526.6 L472.7,525.9 L474.5,525.2 L476.4,524.5 L478.3,523.8 L480.2,523.1 L482.0,522.4 L483.9,521.7 L485.8,520.9 L487.7,520.2 L489.5,519.5 L491.4,518.8 L493.3,518.1 L495.2,517.4 L497.0,516.7 L498.9,516.0 L500.8,515.3 L502.7,514.6 L504.5,513.9 L506.4,513.2 L508.3,512.5 M553.6,486.8 L555.4,485.8 L557.1,484.7 L558.9,483.7 L560.7,482.7 L562.4,481.6 L564.2,480.6 L565.9,479.5 L567.7,478.5 L569.4,477.4 L571.1,476.2 L572.7,475.1 L574.4,473.9 L575.9,472.6 L577.5,471.3 L579.0,469.9 L580.5,468.5 L581.9,467.1 L583.4,465.7 L584.9,464.2 L586.3,462.8 L587.7,461.3 L589.1,459.8 L590.5,458.3 L591.8,456.8 L593.1,455.2 L594.3,453.6 L595.4,451.9 L596.5,450.2 L597.6,448.5 L598.6,446.7 L599.6,444.9 L600.5,443.1 L601.5,441.3 L602.4,439.5 L603.2,437.6 L604.0,435.7 L604.8,433.9 L605.6,432.0 L606.3,430.1 L607.0,428.1 L607.7,426.2 L608.4,424.3 M609.4,413.7 L608.6,411.9 L607.7,410.1 L606.7,408.4 L605.6,406.7 L604.4,405.3 L603.0,403.9 L601.4,402.7 L599.8,401.7 L598.0,400.9 L596.1,400.2 L594.2,399.6 L592.2,399.1 L590.2,398.7 L588.2,398.3 M252.9,459.2 L330.0,458.8 L385.5,460.0 L413.3,461.8 L440.0,463.7 L476.6,466.6 L513.1,468.2 L536.2,474.3 L564.4,480.1 L594.0,486.8 L606.6,490.0 L640.0,495.5 L657.9,501.3 L684.7,512.9 L720.4,527.2 L754.4,543.3 L792.0,559.4 M364.4,333.0 L475.3,330.5 L540.0,329.6 L564.0,330.5 L595.5,331.5 L623.3,331.5 L652.9,338.0 L764.0,363.0 L808.6,398.9 L833.4,420.0 L858.1,438.5 L870.2,447.0 L875.7,441.5 M114.2,581.3 L133.3,579.9 L160.0,580.4 L206.6,581.6 L226.6,582.4 L249.9,583.3 L280.0,585.7 L296.6,586.6 L313.3,587.4 L330.0,590.7 L354.9,594.9 L384.9,597.4 L421.5,602.4 L440.0,605.6 L456.7,610.0 L475.2,615.3 L495.5,620.0 L521.0,624.2 M923.5,110.0 L923.4,112.0 L923.3,114.0 L923.2,116.0 L923.1,118.0 L923.1,120.0 L923.0,122.0 L922.9,124.0 L922.8,126.0 L922.7,128.0 L922.6,130.0 L922.5,132.0 L922.4,134.0 L922.3,136.0 L922.3,138.0 L922.2,140.0 L922.1,142.0 L922.0,144.0 L921.8,146.0 L921.7,148.0 L921.6,150.0 L921.5,152.0 L921.3,154.0 L921.2,156.0 L921.0,158.0 L920.8,160.0 L920.6,162.0 L920.5,164.0 L920.3,166.0 L920.1,168.0 L919.9,170.0 L919.7,172.0 L919.5,174.0 L919.3,176.0 L919.0,178.0 L918.8,180.0 L918.6,182.0 L918.4,184.0 L918.2,185.9 L917.9,187.9 L917.7,189.9 L917.4,191.9 L917.2,193.9 L916.9,195.9 L916.7,197.9 L916.4,199.9 L916.2,201.9 L915.9,203.8 L915.6,205.8 L915.4,207.8 L915.1,209.8 L914.8,211.8 L914.5,213.8 L914.3,215.8 L914.0,217.7 L913.7,219.7 L913.4,221.7 L913.1,223.7 L912.8,225.7 L912.5,227.7 L912.2,229.6 L911.9,231.6 L911.6,233.6 L911.3,235.6 L911.0,237.6 L910.7,239.5 L910.3,241.5 L910.0,243.5 L909.6,245.5 L909.3,247.4 L908.9,249.4 L908.5,251.3 L908.1,253.3 L907.6,255.2 L907.1,257.2 L906.7,259.1 L906.1,261.1 L905.6,263.0 L905.1,264.9 L904.5,266.8 L904.0,268.8 L903.4,270.7 L902.8,272.6 L902.2,274.5 L901.6,276.4 L901.0,278.3 L900.4,280.2 L899.8,282.1 L899.1,284.0 L898.5,285.9 L897.8,287.8 L897.2,289.7 L896.5,291.6 L895.8,293.5 L895.2,295.4 L894.5,297.3 L893.8,299.2 L893.1,301.1 L892.5,303.0 L891.8,304.8 L891.1,306.7 L890.4,308.6 L889.8,310.5 L889.1,312.4 L888.4,314.3 L887.7,316.2 L887.1,318.0 L886.4,319.9 L885.7,321.8 L885.1,323.7 L884.4,325.6 L883.7,327.5 L883.1,329.4 L882.4,331.3 L881.7,333.2 L881.1,335.1 L880.4,337.0 L879.8,338.9 L879.1,340.7 L878.4,342.6 L877.8,344.5 L877.1,346.4 L876.4,348.3 L875.7,350.1 L874.9,352.0 L874.2,353.9 L873.5,355.7 L872.7,357.6 L872.0,359.4 L871.2,361.3 L870.5,363.2 L869.7,365.0 L868.9,366.9 L868.2,368.7 L867.4,370.6 L866.6,372.4 L865.8,374.2 L865.0,376.1 L864.2,377.9 L863.4,379.7 L862.5,381.5 L861.7,383.3 L860.8,385.1 L859.9,386.9 L858.9,388.7 L858.0,390.4 L857.0,392.2 L856.0,393.9 L855.1,395.7 L854.0,397.4 L853.0,399.1 L852.0,400.9 L851.0,402.6 L849.9,404.3 L848.8,405.9 L847.7,407.6 L846.6,409.3 L845.5,410.9 L844.4,412.6 L843.2,414.2 L842.1,415.9 L840.9,417.5 L839.8,419.1 L838.6,420.8 L837.5,422.4 L836.3,424.1 L835.2,425.7 L834.1,427.4 L832.9,429.0 L831.8,430.7 L830.7,432.3 L829.6,434.0 L828.4,435.6 L827.3,437.3 L826.1,438.9 L824.9,440.5 L823.7,442.1 L822.5,443.7 L821.3,445.3 L820.0,446.8 L818.8,448.4 L817.5,449.9 L816.2,451.5 L814.9,453.0 L813.6,454.5 L812.3,456.0 L811.0,457.5 L809.7,459.0 L808.3,460.5 L807.0,462.0 L805.6,463.5 L804.3,465.0 L802.9,466.4 L801.5,467.9 L800.1,469.3 L798.7,470.7 L797.3,472.1 L795.8,473.5 L794.4,474.9 L792.9,476.3 L791.5,477.6 L790.0,479.0 L788.5,480.3 L787.0,481.6 L785.5,482.9 L783.9,484.2 L782.4,485.5 L780.9,486.8 L779.3,488.0 L777.7,489.3 L776.2,490.5 L774.6,491.8 L773.0,493.0 L771.4,494.2 L769.8,495.4 L768.2,496.6 L766.6,497.8 L765.0,499.1 L763.4,500.3 L761.8,501.5 L760.2,502.7 L758.6,503.9 L757.0,505.1 L755.4,506.3 L753.8,507.4 L752.1,508.6 L750.5,509.8 L748.9,510.9 L747.2,512.1 L745.6,513.2 L743.9,514.3 L742.2,515.3 L740.5,516.4 L738.8,517.4 L737.1,518.5 L735.4,519.5 L733.6,520.4 L731.9,521.4 L730.1,522.3 L728.3,523.3 L726.5,524.2 L724.7,525.0 L722.9,525.9 L721.1,526.7 L719.3,527.5 L717.5,528.3 L715.6,529.1 L713.8,529.8 L711.9,530.5 L710.0,531.3 L708.1,531.9 L706.3,532.6 L704.4,533.3 L702.5,534.0 L700.6,534.6 L698.7,535.3 L696.8,536.0 L694.9,536.7 L693.0,537.3 L691.2,538.0 L689.3,538.7 L687.4,539.4 L685.5,540.1 L683.6,540.8 L681.8,541.5 L679.9,542.2 L678.0,542.9 L676.1,543.6 L674.3,544.3 L672.4,545.0 L670.5,545.7 L668.6,546.4 L666.8,547.1 L664.9,547.8 L663.0,548.5 L661.1,549.2 L659.2,549.9 L657.3,550.6 L655.5,551.3 L653.6,551.9 L651.7,552.6 L649.8,553.2 L647.9,553.9 L646.0,554.5 L644.1,555.2 L642.2,555.8 L640.3,556.4 L638.4,557.1 L636.5,557.7 L634.6,558.3 L632.7,558.9 L630.8,559.5 L628.9,560.2 L626.9,560.8 L625.0,561.4 L623.1,562.0 L621.2,562.6 L619.3,563.2 L617.4,563.9 L615.5,564.5 L613.6,565.1 L611.7,565.7 L609.8,566.4 L607.9,567.0 L606.0,567.6 L604.1,568.3 L602.2,568.9 L600.3,569.6 L598.4,570.2 L596.5,570.9 L594.6,571.6 L592.7,572.2 L590.9,572.9 L589.0,573.6 L587.1,574.3 L585.2,575.0 L583.3,575.7 L581.4,576.4 L579.6,577.1 L577.7,577.8 L575.8,578.4 L573.9,579.1 L572.0,579.8 L570.1,580.5 L568.3,581.1 L566.4,581.8 L564.5,582.4 L562.6,583.1 L560.7,583.7 L558.8,584.3 L556.9,584.9 L554.9,585.5 L553.0,586.1 L551.1,586.7 L549.2,587.3 L547.3,587.9 L545.4,588.5 L543.5,589.1 L541.5,589.7 L539.6,590.3 L537.7,590.9 L535.8,591.5 L533.9,592.0 L532.0,592.6 L530.0,593.2 L528.1,593.8 L526.2,594.4 L524.3,595.0 L522.4,595.6 L520.5,596.1 L518.5,596.7 L516.6,597.3 L514.7,597.9 L512.8,598.5 L510.9,599.1 L508.9,599.6 L507.0,600.2 L505.1,600.8 L503.2,601.4 L501.3,602.0 L499.4,602.5 L497.4,603.1 L495.5,603.7 L493.6,604.3 L491.7,604.9 L489.8,605.4 L487.8,606.0 L485.9,606.6 L484.0,607.2 L482.1,607.8 L480.2,608.4 L478.3,609.0 L476.4,609.6 L474.4,610.2 L472.5,610.8 L470.6,611.4 L468.7,612.0 L466.8,612.6 M942.4,142.5 L942.1,144.5 L941.9,146.5 L941.6,148.5 L941.4,150.4 L941.1,152.4 L940.8,154.4 L940.6,156.4 L940.3,158.4 L940.1,160.4 L939.8,162.3 L939.5,164.3 L939.3,166.3 L939.0,168.3 L938.8,170.3 L938.5,172.3 L938.2,174.2 L938.0,176.2 L937.7,178.2 L937.4,180.2 L937.2,182.2 L936.9,184.1 L936.6,186.1 L936.4,188.1 L936.1,190.1 L935.9,192.1 L935.6,194.1 L935.3,196.0 L935.1,198.0 L934.8,200.0 L934.5,202.0 L934.3,204.0 L934.1,206.0 L933.8,208.0 L933.6,209.9 L933.4,211.9 L933.1,213.9 L932.9,215.9 L932.7,217.9 L932.5,219.9 L932.3,221.9 L932.1,223.9 L931.9,225.8 L931.7,227.8 L931.5,229.8 L931.2,231.8 L931.0,233.8 L930.7,235.7 L930.4,237.7 L930.0,239.7 L929.7,241.6 L929.3,243.6 L928.9,245.6 L928.5,247.5 L928.0,249.4 L927.5,251.4 L927.1,253.3 L926.6,255.3 L926.1,257.2 L925.6,259.1 L925.1,261.1 L924.7,263.0 L924.2,265.0 L923.7,266.9 L923.2,268.8 L922.7,270.8 L922.2,272.7 L921.7,274.6 L921.1,276.6 L920.6,278.5 L920.0,280.4 L919.5,282.3 L918.9,284.2 L918.3,286.1 L917.7,288.0 L917.0,289.9 L916.4,291.8 L915.7,293.7 L915.1,295.6 L914.4,297.5 L913.7,299.4 L913.1,301.3 L912.4,303.2 L911.7,305.0 L911.1,306.9 L910.4,308.8 L909.8,310.7 L909.1,312.6 L908.5,314.5 L907.8,316.4 L907.2,318.3 L906.5,320.2 L905.9,322.1 L905.3,324.0 L904.6,325.9 L904.0,327.8 L903.4,329.7 L902.8,331.6 L902.2,333.5 L901.6,335.4 L901.0,337.3 L900.4,339.2 L899.8,341.1 L899.2,343.0 L898.6,344.9 L898.1,346.8 L897.5,348.8 L896.9,350.7 L896.3,352.6 L895.7,354.5 L895.1,356.4 L894.4,358.3 L893.8,360.2 L893.1,362.0 L892.4,363.9 L891.7,365.8 L891.0,367.6 L890.3,369.5 L889.5,371.3 L888.7,373.2 L888.0,375.0 L887.2,376.9 L886.4,378.7 L885.6,380.5 L884.8,382.4 L884.0,384.2 L883.2,386.0 L882.5,387.9 L881.7,389.7 L880.9,391.5 L880.1,393.4 L879.3,395.2 L878.4,397.0 L877.6,398.7 L876.7,400.5 L875.7,402.2 L874.8,404.0 L873.8,405.7 L872.7,407.4 L871.7,409.0 L870.6,410.7 L869.5,412.3 L868.3,414.0 L867.2,415.6 L866.1,417.3 L864.9,418.9 L863.8,420.5 L862.6,422.1 L861.4,423.7 L860.2,425.3 L859.0,426.9 L857.8,428.5 L856.5,430.0 L855.2,431.5 L853.9,433.1 L852.6,434.6 L851.3,436.0 L849.9,437.5 L848.6,439.0 L847.2,440.4 L845.8,441.8 L844.4,443.3 L843.0,444.7 L841.6,446.1 L840.2,447.6 L838.9,449.0 L837.5,450.5 L836.2,451.9 L834.9,453.4 L833.6,455.0 L832.4,456.5 L831.1,458.0 L829.9,459.6 L828.7,461.2 L827.6,462.8 L826.4,464.4 L825.2,466.0 L824.0,467.5 L822.7,469.1 L821.5,470.6 L820.2,472.1 L818.9,473.6 L817.5,475.1 L816.2,476.5 L814.8,477.9 L813.4,479.3 L812.0,480.7 L810.6,482.2 L809.1,483.6 L807.7,485.0 L806.3,486.4 L804.9,487.8 L803.5,489.2 L802.1,490.7 L800.7,492.1 L799.3,493.5 L797.9,494.9 L796.5,496.3 L795.1,497.7 L793.6,499.0 L792.1,500.4 L790.6,501.7 L789.1,502.9 L787.5,504.2 L786.0,505.4 L784.4,506.7 L782.8,507.9 L781.2,509.1 L779.6,510.2 L778.0,511.4 L776.3,512.5 L774.7,513.6 L773.0,514.7 L771.3,515.8 L769.6,516.9 L768.0,518.0 L766.3,519.0 L764.6,520.1 L762.9,521.1 L761.1,522.2 L759.4,523.2 L757.7,524.2 L756.0,525.3 L754.3,526.3 L752.6,527.3 L750.9,528.3 L749.2,529.3 L747.4,530.3 L745.7,531.2 L743.9,532.1 L742.2,533.0 L740.4,533.9 L738.6,534.7 L736.7,535.4 L734.9,536.2 L733.0,536.9 L731.2,537.6 L729.3,538.3 L727.4,538.9 L725.5,539.5 L723.6,540.2 L721.7,540.8 L719.8,541.4 L717.9,542.1 L716.0,542.7 L714.1,543.3 L712.2,543.9 L710.3,544.5 L708.4,545.2 L706.5,545.8 L704.6,546.4 L702.7,547.0 L700.8,547.6 L698.9,548.3 L697.0,548.9 L695.1,549.5 L693.2,550.1 L691.3,550.7 L689.4,551.3 L687.5,551.9 L685.6,552.6 L683.7,553.2 L681.8,553.8 L679.9,554.4 L678.0,555.0 L676.1,555.6 L674.2,556.2 L672.3,556.8 L670.4,557.5 L668.5,558.1 L666.6,558.7 L664.6,559.3 L662.7,559.9 L660.8,560.5 L658.9,561.1 L657.0,561.7 L655.1,562.3 L653.2,563.0 L651.3,563.6 L649.4,564.2 L647.5,564.8 L645.6,565.4 L643.7,566.0 L641.8,566.6 L639.9,567.2 L638.0,567.8 L636.1,568.5 L634.2,569.1 L632.3,569.7 L630.4,570.3 L628.5,570.9 L626.5,571.5 L624.6,572.1 L622.7,572.7 L620.8,573.3 L618.9,573.9 L617.0,574.6 L615.1,575.2 L613.2,575.8 L611.3,576.4 L609.4,577.0 L607.5,577.6 L605.6,578.2 L603.7,578.8 L601.8,579.4 L599.9,580.0 L598.0,580.7 L596.1,581.3 L594.2,581.9 L592.3,582.5 L590.3,583.1 L588.4,583.7 L586.5,584.3 L584.6,584.9 L582.7,585.5 L580.8,586.1 L578.9,586.7 L577.0,587.4 L575.1,588.0 L573.2,588.6 L571.3,589.2 L569.4,589.8 L567.5,590.4 L565.6,590.9 L563.6,591.5 L561.7,592.1 L559.8,592.7 L557.9,593.3 L556.0,593.8 L554.1,594.4 L552.1,595.0 L550.2,595.5 L548.3,596.1 L546.4,596.7 L544.5,597.2 L542.6,597.8 L540.6,598.4 L538.7,598.9 L536.8,599.5 L534.9,600.1 L533.0,600.6 L531.0,601.2 L529.1,601.8 L527.2,602.3 L525.3,602.9 L523.4,603.5 L521.5,604.1 L519.6,604.7 L517.7,605.3 L515.8,605.9 L513.9,606.5 L511.9,607.2 L510.0,607.8 L508.2,608.4 L506.3,609.0 L504.4,609.7 L502.5,610.3 L500.6,611.0 L498.7,611.6 L496.8,612.2 L494.9,612.9 L493.0,613.5 L491.1,614.1 L489.2,614.8 L487.3,615.4 L485.4,616.1 L483.5,616.7 M956.5,179.1 L956.2,181.1 L955.9,183.1 L955.6,185.0 L955.3,187.0 L955.0,189.0 L954.8,191.0 L954.5,193.0 L954.2,195.0 L954.0,196.9 L953.7,198.9 L953.5,200.9 L953.3,202.9 L953.1,204.9 L952.8,206.9 L952.6,208.9 L952.4,210.9 L952.2,212.9 L952.0,214.9 L951.9,216.9 L951.7,218.9 L951.5,220.9 L951.3,222.8 L951.1,224.8 L950.9,226.8 L950.7,228.8 L950.5,230.8 L950.3,232.8 L950.0,234.8 L949.8,236.8 L949.5,238.8 L949.2,240.7 L948.9,242.7 L948.6,244.7 L948.2,246.6 L947.9,248.6 L947.5,250.6 L947.1,252.5 L946.7,254.5 L946.3,256.5 L946.0,258.4 L945.6,260.4 L945.2,262.4 L944.8,264.3 L944.4,266.3 L944.0,268.3 L943.6,270.2 L943.2,272.2 L942.8,274.1 L942.4,276.1 L941.9,278.0 L941.5,280.0 L941.0,281.9 L940.4,283.8 L939.9,285.8 L939.3,287.7 L938.7,289.6 L938.1,291.5 L937.4,293.4 L936.7,295.2 L936.0,297.1 L935.3,299.0 L934.6,300.9 L933.9,302.7 L933.2,304.6 L932.4,306.4 L931.7,308.3 L931.0,310.2 L930.2,312.0 L929.5,313.9 L928.8,315.8 L928.1,317.7 L927.5,319.6 L926.8,321.4 L926.1,323.3 L925.5,325.2 L924.9,327.1 L924.3,329.0 L923.7,331.0 L923.1,332.9 L922.6,334.8 L922.0,336.7 L921.5,338.6 L921.0,340.6 L920.4,342.5 L919.9,344.4 L919.3,346.3 L918.8,348.2 L918.2,350.1 L917.6,352.0 L917.0,353.9 L916.3,355.8 L915.6,357.7 L915.0,359.6 L914.3,361.4 L913.6,363.3 L912.9,365.2 L912.2,367.1 L911.6,369.0 L910.9,370.8 L910.2,372.7 L909.5,374.6 L908.7,376.5 L908.0,378.3 L907.3,380.2 L906.5,382.0 L905.7,383.9 L905.0,385.7 L904.2,387.5 L903.4,389.4 L902.5,391.2 L901.7,393.0 L900.9,394.8 L900.1,396.7 L899.3,398.5 L898.4,400.3 L897.6,402.1 L896.7,403.9 L895.9,405.7 L895.0,407.5 L894.0,409.3 L893.1,411.0 L892.1,412.8 L891.2,414.5 L890.1,416.2 L889.1,417.9 L888.0,419.6 L887.0,421.3 L885.9,423.0 L884.8,424.7 L883.7,426.3 L882.6,428.0 L881.4,429.7 L880.3,431.3 L879.2,433.0 L878.0,434.6 L876.9,436.3 L875.8,437.9 L874.6,439.5 L873.5,441.2 L872.3,442.8 L871.2,444.5 L870.0,446.1 L868.8,447.7 L867.7,449.4 L866.5,451.0 L865.3,452.6 L864.1,454.2 L862.9,455.8 L861.7,457.4 L860.5,458.9 L859.2,460.5 L857.9,462.1 L856.7,463.6 L855.4,465.1 L854.1,466.6 L852.7,468.1 L851.4,469.7 L850.1,471.2 L848.8,472.6 L847.4,474.1 L846.1,475.6 L844.7,477.1 L843.4,478.6 L842.0,480.0 L840.6,481.5 L839.2,482.9 L837.8,484.3 L836.4,485.7 L834.9,487.1 L833.5,488.5 L832.0,489.8 L830.5,491.2 L829.0,492.5 L827.5,493.8 L826.0,495.1 L824.5,496.4 L823.0,497.8 L821.5,499.1 L820.0,500.4 L818.4,501.7 L816.9,503.0 L815.4,504.3 L813.9,505.6 L812.4,506.9 L810.9,508.2 L809.3,509.5 L807.8,510.8 L806.2,512.1 L804.7,513.3 L803.1,514.5 L801.5,515.8 L799.9,517.0 L798.3,518.2 L796.7,519.3 L795.1,520.5 L793.4,521.6 L791.8,522.7 L790.1,523.8 L788.4,524.9 L786.7,526.0 L785.0,527.0 L783.3,528.1 L781.6,529.1 L779.9,530.0 L778.1,531.0 L776.3,531.9 L774.6,532.8 L772.8,533.7 L771.0,534.6 L769.2,535.4 L767.3,536.3 L765.5,537.1 L763.7,538.0 L761.9,538.8 L760.1,539.6 L758.2,540.4 L756.4,541.2 L754.6,542.0 L752.7,542.8 L750.9,543.6 L749.0,544.4 L747.2,545.1 L745.3,545.9 L743.5,546.6 L741.6,547.3 L739.7,547.9 L737.8,548.6 L735.9,549.2 L734.0,549.8 L732.1,550.5 L730.2,551.0 L728.3,551.6 L726.4,552.2 L724.4,552.8 L722.5,553.4 L720.6,554.0 L718.7,554.5 L716.8,555.1 L714.8,555.7 L712.9,556.2 L711.0,556.8 L709.1,557.4 L707.2,558.0 L705.2,558.5 L703.3,559.1 L701.4,559.7 L699.5,560.2 L697.6,560.8 L695.6,561.4 L693.7,561.9 L691.8,562.5 L689.9,563.1 L687.9,563.6 L686.0,564.2 L684.1,564.8 L682.2,565.3 L680.3,565.9 L678.3,566.4 L676.4,567.0 L674.5,567.6 L672.6,568.1 L670.6,568.7 L668.7,569.3 L666.8,569.8 L664.9,570.4 L662.9,570.9 L661.0,571.5 L659.1,572.1 L657.2,572.6 L655.3,573.2 L653.3,573.8 L651.4,574.3 L649.5,574.9 L647.6,575.5 L645.7,576.1 L643.7,576.6 L641.8,577.2 L639.9,577.8 L638.0,578.4 L636.1,578.9 L634.1,579.5 L632.2,580.1 L630.3,580.7 L628.4,581.3 L626.5,581.8 L624.6,582.4 L622.6,583.0 L620.7,583.6 L618.8,584.2 L616.9,584.7 L615.0,585.3 L613.1,585.9 L611.1,586.5 L609.2,587.1 L607.3,587.6 L605.4,588.2 L603.5,588.8 L601.5,589.4 L599.6,590.0 L597.7,590.5 L595.8,591.1 L593.9,591.7 L592.0,592.3 L590.0,592.9 L588.1,593.4 L586.2,594.0 L584.3,594.6 L582.4,595.2 L580.4,595.7 L578.5,596.3 L576.6,596.9 L574.7,597.5 L572.8,598.0 L570.8,598.6 L568.9,599.2 L567.0,599.7 L565.1,600.3 L563.1,600.8 L561.2,601.4 L559.3,601.9 L557.4,602.4 L555.4,603.0 L553.5,603.5 L551.5,604.0 L549.6,604.5 L547.7,605.0 L545.7,605.6 L543.8,606.1 L541.9,606.6 L539.9,607.1 L538.0,607.6 L536.1,608.2 L534.1,608.7 L532.2,609.2 L530.3,609.8 L528.4,610.3 L526.4,610.9 L524.5,611.5 L522.6,612.1 L520.7,612.7 L518.8,613.3 L516.9,614.0 L515.0,614.6 L513.2,615.3 L511.3,616.0 L509.4,616.7 L507.6,617.5 L505.7,618.2 L503.8,618.9 L502.0,619.7 L500.1,620.4 M971.5,215.7 L971.1,217.7 L970.8,219.7 L970.4,221.6 L970.0,223.6 L969.7,225.6 L969.3,227.6 L969.0,229.6 L968.6,231.6 L968.3,233.5 L968.0,235.5 L967.7,237.5 L967.3,239.5 L967.0,241.5 L966.7,243.5 L966.4,245.5 L966.1,247.5 L965.7,249.4 L965.4,251.4 L965.1,253.4 L964.7,255.4 L964.4,257.4 L964.1,259.4 L963.7,261.4 L963.4,263.3 L963.0,265.3 L962.6,267.3 L962.3,269.3 L961.9,271.3 L961.5,273.3 L961.2,275.2 L960.8,277.2 L960.4,279.2 L960.0,281.2 L959.7,283.1 L959.3,285.1 L958.9,287.1 L958.5,289.1 L958.1,291.0 L957.6,293.0 L957.2,295.0 L956.8,296.9 L956.3,298.9 L955.9,300.9 L955.4,302.8 L954.9,304.8 L954.4,306.7 L953.8,308.6 L953.3,310.6 L952.7,312.5 L952.1,314.4 L951.5,316.3 L950.9,318.3 L950.3,320.2 L949.6,322.1 L949.0,324.0 L948.3,325.9 L947.7,327.8 L947.0,329.7 L946.4,331.6 L945.7,333.5 L945.1,335.4 L944.4,337.3 L943.8,339.2 L943.2,341.2 L942.6,343.1 L942.0,345.0 L941.4,346.9 L940.8,348.8 L940.3,350.8 L939.7,352.7 L939.1,354.6 L938.5,356.5 L937.9,358.5 L937.3,360.4 L936.6,362.3 L936.0,364.2 L935.4,366.1 L934.8,368.0 L934.2,370.0 L933.5,371.9 L932.9,373.8 L932.2,375.7 L931.6,377.6 L930.9,379.5 L930.3,381.4 L929.6,383.3 L929.0,385.2 L928.3,387.1 L927.6,389.0 L926.9,390.9 L926.2,392.8 L925.5,394.7 L924.7,396.5 L924.0,398.4 L923.2,400.3 L922.5,402.1 L921.7,404.0 L920.9,405.8 L920.0,407.7 L919.2,409.5 L918.4,411.3 L917.5,413.1 L916.6,415.0 L915.8,416.8 L914.9,418.6 L914.0,420.4 L913.1,422.2 L912.2,424.0 L911.3,425.8 L910.3,427.6 L909.4,429.4 L908.5,431.1 L907.6,432.9 L906.6,434.7 L905.7,436.5 M986.5,253.3 L986.2,255.3 L985.8,257.2 L985.5,259.2 L985.2,261.2 L984.8,263.2 L984.5,265.1 L984.1,267.1 L983.8,269.1 L983.5,271.0 L983.1,273.0 L982.8,275.0 L982.4,277.0 L982.1,278.9 L981.7,280.9 L981.4,282.9 L981.0,284.8 L980.7,286.8 L980.3,288.8 L980.0,290.7 L979.6,292.7 L979.3,294.7 L978.9,296.6 L978.5,298.6 L978.2,300.6 L977.8,302.5 L977.4,304.5 L977.1,306.5 L976.7,308.4 L976.3,310.4 L975.9,312.4 L975.5,314.3 L975.1,316.3 L974.7,318.2 L974.3,320.2 L973.9,322.2 L973.5,324.1 L973.0,326.1 L972.6,328.0 L972.2,330.0 L971.8,331.9 L971.4,333.9 L971.0,335.9 L970.5,337.8 L970.1,339.7 L969.6,341.7 L969.1,343.6 L968.6,345.6 L968.1,347.5 L967.6,349.4 L967.0,351.3 L966.3,353.2 L965.7,355.1 L965.0,356.9 L964.3,358.8 L963.6,360.7 L962.9,362.5 L962.1,364.4 L961.4,366.2 L960.6,368.1 L959.9,369.9 L959.1,371.8 L958.3,373.6 L957.5,375.4 L956.7,377.3 L955.9,379.1 L955.1,380.9 L954.3,382.8 L953.5,384.6 L952.6,386.4 L951.8,388.2 L951.0,390.0 L950.1,391.9 L949.3,393.7 L948.5,395.5 L947.7,397.3 L946.9,399.2 L946.1,401.0 L945.3,402.8 L944.5,404.7 L943.7,406.5 L943.0,408.4 L942.2,410.2 L941.4,412.1 L940.7,413.9 L939.9,415.8 L939.1,417.6 L938.3,419.4 L937.5,421.3 L936.8,423.1 L935.9,424.9 L935.1,426.8 L934.3,428.6 L933.5,430.4 L932.7,432.2 L931.8,434.1 L931.0,435.9 L930.2,437.7 L929.3,439.5 L928.5,441.3 L927.6,443.1 L926.7,444.9 L925.8,446.6 L924.8,448.4 L923.9,450.1 L922.9,451.8 L921.8,453.5 L920.7,455.1 L919.6,456.8 L918.4,458.4 L917.2,459.9 L916.0,461.5 L914.7,463.0 L913.4,464.5 L912.0,465.9 L910.7,467.4 L909.3,468.8 L907.9,470.2 L906.5,471.6 L905.1,473.0 L903.6,474.4 L902.2,475.9 L900.8,477.3 L899.4,478.7 L898.1,480.1 L896.7,481.6 L895.3,483.0 L893.9,484.5 L892.6,485.9 L891.2,487.4 L889.8,488.8 L888.4,490.3 L887.0,491.7 L885.6,493.1 L884.2,494.5 L882.8,495.9 L881.3,497.3 L879.9,498.7 L878.4,500.1 L877.0,501.4 L875.5,502.8 L874.0,504.1 L872.5,505.5 L871.1,506.8 L869.6,508.2 L868.1,509.5 L866.6,510.8 L865.1,512.1 L863.5,513.4 L862.0,514.7 L860.5,516.0 L858.9,517.2 L857.4,518.5 L855.8,519.7 L854.2,520.9 L852.6,522.1 L851.0,523.3 L849.4,524.5 L847.8,525.7 L846.2,526.8 L844.5,528.0 L842.9,529.1 L841.2,530.2 L839.5,531.2 L837.8,532.3 L836.1,533.3 L834.4,534.3 L832.6,535.2 L830.8,536.1 L829.1,537.1 L827.3,538.0 L825.5,538.8 L823.7,539.7 L821.9,540.6 L820.1,541.4 L818.3,542.2 L816.4,543.1 L814.6,543.9 L812.8,544.7 L811.0,545.6 L809.2,546.4 L807.3,547.2 L805.5,548.0 L803.7,548.8 L801.8,549.6 L800.0,550.4 L798.1,551.1 L796.3,551.9 L794.5,552.7 L792.6,553.4 L790.8,554.2 L788.9,555.0 L787.0,555.7 L785.2,556.4 L783.3,557.2 L781.5,557.9 L779.6,558.6 L777.7,559.3 L775.8,560.0 L774.0,560.7 L772.1,561.4 L770.2,562.1 L768.3,562.8 L766.5,563.5 L764.6,564.2 L762.7,564.9 L760.8,565.6 L759.0,566.2 L757.1,566.9 L755.2,567.6 L753.3,568.2 L751.4,568.9 L749.5,569.5 L747.6,570.2 L745.7,570.8 L743.8,571.4 L741.9,572.0 L740.0,572.5 L738.1,573.1 L736.1,573.6 L734.2,574.2 L732.3,574.7 L730.4,575.2 L728.4,575.7 L726.5,576.2 L724.5,576.7 L722.6,577.2 L720.7,577.6 L718.7,578.1 L716.8,578.6 L714.8,579.1 L712.9,579.6 L711.0,580.1 L709.0,580.6 L707.1,581.0 L705.1,581.5 L703.2,582.0 L701.3,582.5 L699.3,583.0 L697.4,583.5 L695.5,584.0 L693.5,584.6 L691.6,585.1 L689.7,585.6 L687.7,586.1 L685.8,586.7 L683.9,587.2 L682.0,587.8 L680.0,588.3 L678.1,588.8 L676.2,589.4 L674.3,589.9 L672.3,590.5 L670.4,591.0 L668.5,591.6 L666.6,592.1 L664.6,592.7 L662.7,593.2 L660.8,593.8 M894.5,469.4 L907.0,478.1 M902.6,440.2 L902.2,440.8 M880.5,469.4 L879.1,470.8 L877.7,472.3 L876.3,473.7 L874.9,475.2 L873.5,476.6 L872.1,478.0 L870.7,479.4 L869.3,480.9 L867.9,482.3 L866.5,483.7 L865.0,485.1 L863.6,486.5 L862.1,487.8 L860.7,489.2 L859.2,490.6 L857.8,492.0 L856.3,493.3 L854.8,494.7 L853.4,496.1 L851.9,497.4 L850.4,498.8 L848.9,500.1 L847.5,501.5 L846.0,502.8 L844.5,504.2 L843.0,505.5 L841.5,506.8 L840.0,508.1 L838.4,509.4 L836.9,510.7 L835.4,512.0 L833.8,513.2 L832.3,514.5 L830.7,515.8 L829.1,517.0 L827.6,518.3 L826.0,519.5 L824.4,520.7 L822.8,522.0 L821.3,523.2 L819.7,524.4 L818.1,525.6 L816.4,526.7 L814.8,527.9 L813.1,529.0 L811.5,530.1 L809.8,531.2 L808.1,532.2 L806.4,533.2 L804.7,534.2 L802.9,535.2 L801.2,536.2 L799.4,537.2 L797.7,538.1 L795.9,539.1 L794.1,540.0 L792.3,540.9 L790.5,541.8 L788.7,542.7 L786.9,543.5 L785.1,544.4 L783.3,545.2 L781.5,546.0 L779.6,546.7 L777.8,547.5 L775.9,548.2 L774.0,548.9 L772.2,549.6 L770.3,550.3 L768.4,551.0 L766.5,551.6 L764.6,552.3 L762.7,552.9 L760.8,553.6 L758.9,554.2 L757.0,554.9 L755.1,555.5 L753.2,556.2 L751.3,556.8 L749.4,557.4 L747.5,558.0 L745.6,558.7 L743.7,559.3 L741.8,559.9 L739.9,560.5 L738.0,561.1 L736.1,561.6 L734.1,562.2 L732.2,562.8 L730.3,563.3 L728.4,563.9 L726.5,564.5 L724.5,565.0 L722.6,565.6 L720.7,566.2 L718.8,566.7 L716.8,567.3 L714.9,567.8 L713.0,568.4 L711.1,568.9 L709.1,569.5 L707.2,570.0 L705.3,570.6 L703.3,571.1 L701.4,571.6 L699.5,572.2 L697.6,572.7 L695.6,573.2 L693.7,573.7 L691.7,574.2 L689.8,574.7 L687.8,575.1 L685.9,575.6 L683.9,576.0 L682.0,576.5 L680.0,576.9 L678.1,577.3 L676.1,577.7 L674.2,578.2 L672.2,578.6 L670.2,579.0 L668.3,579.5 L666.3,579.9 L664.4,580.3 L662.4,580.8 L660.5,581.2 L658.5,581.7 L656.6,582.1 L654.6,582.6 L652.7,583.1 L650.7,583.5 L648.8,584.0 L646.8,584.5 L644.9,585.0 L643.0,585.6 L641.0,586.1 L639.1,586.6 L637.2,587.1 L635.2,587.7 L633.3,588.2 L631.4,588.8 L629.5,589.3 L627.5,589.8 L625.6,590.4 L623.7,590.9 L621.7,591.4 L619.8,592.0 L617.9,592.5 L615.9,593.0 L614.0,593.6 L612.1,594.1 L610.1,594.7 L608.2,595.2 L606.3,595.7 L604.4,596.3 L602.4,596.8 L600.5,597.3 L598.6,597.9 L596.6,598.4 L594.7,599.0 L592.8,599.5 L590.8,600.0 L588.9,600.6 L587.0,601.1 L585.1,601.6 L583.1,602.2 L581.2,602.7 L579.3,603.3 L577.3,603.8 L575.4,604.3 L573.5,604.9 L571.5,605.4 L569.6,605.9 L567.7,606.5 L565.7,607.0 L563.8,607.5 L561.9,608.0 L559.9,608.6 L558.0,609.1 L556.1,609.6 L554.1,610.1 L552.2,610.6 L550.3,611.2 L548.3,611.7 L546.4,612.2 L544.5,612.7 L542.5,613.2 L540.6,613.7 L538.7,614.3 L536.7,614.8 L534.8,615.3 L532.9,615.9 L531.0,616.4 L529.0,617.0 L527.1,617.6 L525.2,618.2 L523.3,618.8 L521.5,619.5 L519.6,620.2 L517.7,620.9 L515.9,621.6 L514.0,622.3" stroke="#000" stroke-width="3.1" fill="none" stroke-linecap="round" stroke-linejoin="round"/>
<rect x="848" y="346" width="40.0" height="21.0" fill="#fff"/><rect x="855.5" y="382.5" width="39.0" height="20.5" fill="#fff"/><rect x="860" y="411" width="41.0" height="25.0" fill="#fff"/><rect x="865" y="448" width="49.0" height="20.0" fill="#fff"/><text x="673.2" y="87.5" font-family="Liberation Sans, Arial, sans-serif" font-weight="bold" font-size="18" fill="#000">0.66</text><text x="730.0" y="110.5" font-family="Liberation Sans, Arial, sans-serif" font-weight="bold" font-size="18" fill="#000">0.68</text><text x="806.2" y="143.3" font-family="Liberation Sans, Arial, sans-serif" font-weight="bold" font-size="18" fill="#000">0.7</text><text x="781.6" y="188.5" font-family="Liberation Sans, Arial, sans-serif" font-weight="bold" font-size="18" fill="#000">0.72</text><text x="722.3" y="241.8" font-family="Liberation Sans, Arial, sans-serif" font-weight="bold" font-size="18" fill="#000">0.74</text><text x="664.0" y="304.7" font-family="Liberation Sans, Arial, sans-serif" font-weight="bold" font-size="18" fill="#000">0.76</text><text x="512.2" y="509.0" font-family="Liberation Sans, Arial, sans-serif" font-weight="bold" font-size="18" fill="#000">0.78</text><text x="850.5" y="363.0" font-family="Liberation Sans, Arial, sans-serif" font-weight="bold" font-size="18" fill="#000">0.68</text><text x="858.7" y="398.6" font-family="Liberation Sans, Arial, sans-serif" font-weight="bold" font-size="18" fill="#000">0.66</text><text x="863.7" y="430.8" font-family="Liberation Sans, Arial, sans-serif" font-weight="bold" font-size="18" fill="#000">0.64</text><text x="867.5" y="465.5" font-family="Liberation Sans, Arial, sans-serif" font-weight="bold" font-size="18" fill="#000">0.62</text>
<rect x="517.5" y="621" width="5.5" height="5" fill="#000" transform="rotate(12 520 623.5)"/>
<text x="119.2" y="552.5" font-family="Liberation Sans, Arial, sans-serif" font-size="14.5" fill="#111" stroke="#111" stroke-width="0.3">52K</text>
<text x="202.2" y="462" font-family="Liberation Sans, Arial, sans-serif" font-size="14.5" fill="#111" stroke="#111" stroke-width="0.3">70K</text>
<text x="308.9" y="333.2" font-family="Liberation Sans, Arial, sans-serif" font-size="14.5" fill="#111" stroke="#111" stroke-width="0.3">84K</text>
<text x="523.3" y="150" font-family="Liberation Sans, Arial, sans-serif" font-size="14.5" fill="#111" stroke="#111" stroke-width="0.3">97K</text>
<text x="621" y="67.8" font-family="Liberation Sans, Arial, sans-serif" font-size="14.5" fill="#111" stroke="#111" stroke-width="0.3">105079</text>
<text x="97.5" y="56.6" text-anchor="end" font-family="Liberation Sans, Arial, sans-serif" font-weight="bold" font-size="16" letter-spacing="-0.3" fill="#111">4.8</text>
<text x="97.5" y="113.7" text-anchor="end" font-family="Liberation Sans, Arial, sans-serif" font-weight="bold" font-size="16" letter-spacing="-0.3" fill="#111">4.4</text>
<text x="97.5" y="172.3" text-anchor="end" font-family="Liberation Sans, Arial, sans-serif" font-weight="bold" font-size="16" letter-spacing="-0.3" fill="#111">4.1</text>
<text x="97.5" y="229.7" text-anchor="end" font-family="Liberation Sans, Arial, sans-serif" font-weight="bold" font-size="16" letter-spacing="-0.3" fill="#111">3.7</text>
<text x="97.5" y="288.2" text-anchor="end" font-family="Liberation Sans, Arial, sans-serif" font-weight="bold" font-size="16" letter-spacing="-0.3" fill="#111">3.4</text>
<text x="97.5" y="347.0" text-anchor="end" font-family="Liberation Sans, Arial, sans-serif" font-weight="bold" font-size="16" letter-spacing="-0.3" fill="#111">3.1</text>
<text x="97.5" y="404.1" text-anchor="end" font-family="Liberation Sans, Arial, sans-serif" font-weight="bold" font-size="16" letter-spacing="-0.3" fill="#111">2.7</text>
<text x="97.5" y="462.3" text-anchor="end" font-family="Liberation Sans, Arial, sans-serif" font-weight="bold" font-size="16" letter-spacing="-0.3" fill="#111">2.4</text>
<text x="97.5" y="520.1" text-anchor="end" font-family="Liberation Sans, Arial, sans-serif" font-weight="bold" font-size="16" letter-spacing="-0.3" fill="#111">2.0</text>
<text x="97.5" y="578.9" text-anchor="end" font-family="Liberation Sans, Arial, sans-serif" font-weight="bold" font-size="16" letter-spacing="-0.3" fill="#111">1.7</text>
<text x="97.5" y="637.7" text-anchor="end" font-family="Liberation Sans, Arial, sans-serif" font-weight="bold" font-size="16" letter-spacing="-0.3" fill="#111">1.4</text>
<text x="206.6" y="654.6" text-anchor="middle" font-family="Liberation Sans, Arial, sans-serif" font-size="19" fill="#111" stroke="#111" stroke-width="0.45">24</text>
<text x="296.7" y="654.6" text-anchor="middle" font-family="Liberation Sans, Arial, sans-serif" font-size="19" fill="#111" stroke="#111" stroke-width="0.45">38</text>
<text x="385.6" y="654.6" text-anchor="middle" font-family="Liberation Sans, Arial, sans-serif" font-size="19" fill="#111" stroke="#111" stroke-width="0.45">45</text>
<text x="475.5" y="654.6" text-anchor="middle" font-family="Liberation Sans, Arial, sans-serif" font-size="19" fill="#111" stroke="#111" stroke-width="0.45">54</text>
<text x="564.5" y="654.6" text-anchor="middle" font-family="Liberation Sans, Arial, sans-serif" font-size="19" fill="#111" stroke="#111" stroke-width="0.45">62</text>
<text x="653.7" y="654.6" text-anchor="middle" font-family="Liberation Sans, Arial, sans-serif" font-size="19" fill="#111" stroke="#111" stroke-width="0.45">71</text>
<text x="745.4" y="654.6" text-anchor="middle" font-family="Liberation Sans, Arial, sans-serif" font-size="19" fill="#111" stroke="#111" stroke-width="0.45">79</text>
<text x="833.4" y="654.6" text-anchor="middle" font-family="Liberation Sans, Arial, sans-serif" font-size="19" fill="#111" stroke="#111" stroke-width="0.45">88</text>
<text x="924.7" y="654.6" text-anchor="middle" font-family="Liberation Sans, Arial, sans-serif" font-size="19" fill="#111" stroke="#111" stroke-width="0.45">97</text>
<text x="1009" y="654.6" text-anchor="middle" font-family="Liberation Sans, Arial, sans-serif" font-size="19" fill="#111" stroke="#111" stroke-width="0.45">105</text>
<text x="398" y="698.5" font-family="Liberation Sans, Arial, sans-serif" font-weight="bold" font-size="26" letter-spacing="1.0" fill="#111">Compressor Flow (lbs/m)</text>
<text transform="translate(51.4,444.1) rotate(-90)" x="0" y="0" font-family="Liberation Sans, Arial, sans-serif" font-weight="bold" font-size="26" letter-spacing="1.0" fill="#111">Pressure Ratio</text>
</svg></body></html>
